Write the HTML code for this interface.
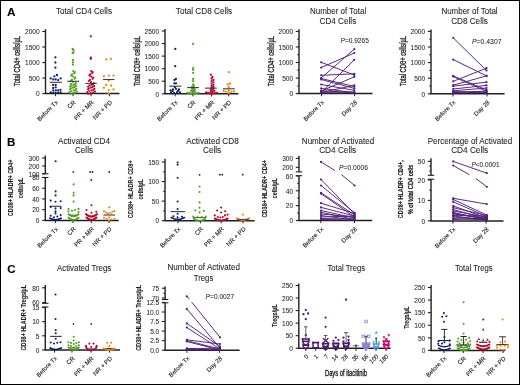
<!DOCTYPE html>
<html><head><meta charset="utf-8"><style>
html,body{margin:0;padding:0;background:#fff;}
svg{will-change:transform;}
text{stroke:#231f20;stroke-width:0.12px;}
.tk{stroke-width:0.05px;}
.tt{stroke-width:0.08px;}
.frame{position:relative;width:520px;height:385px;overflow:hidden;}
.border{position:absolute;left:0;top:0;width:518px;height:383px;border:1px solid #000;}
</style></head><body><div class="frame"><svg width="520" height="385" viewBox="0 0 520 385" style="display:block"><rect x="0" y="0" width="520" height="385" fill="#fff"/><g font-family='"Liberation Sans", sans-serif' stroke-linejoin="round"><text x="7" y="16.0" font-size="11.8" text-anchor="start" font-weight="bold" fill="#000" >A</text><text x="7" y="145.8" font-size="11.5" text-anchor="start" font-weight="bold" fill="#000" >B</text><text x="7.2" y="272.9" font-size="11.5" text-anchor="start" font-weight="bold" fill="#000" >C</text><text x="84" y="14.2" font-size="8.9" text-anchor="middle" font-weight="normal" fill="#231f20" textLength="56" lengthAdjust="spacingAndGlyphs" class="tt">Total CD4 Cells</text><text x="204" y="14.2" font-size="8.9" text-anchor="middle" font-weight="normal" fill="#231f20" textLength="56.4" lengthAdjust="spacingAndGlyphs" class="tt">Total CD8 Cells</text><text x="338.1" y="14.45" font-size="8.9" text-anchor="middle" font-weight="normal" fill="#231f20" textLength="56.2" lengthAdjust="spacingAndGlyphs" class="tt">Number of Total</text><text x="337.9" y="24.45" font-size="8.9" text-anchor="middle" font-weight="normal" fill="#231f20" textLength="36.7" lengthAdjust="spacingAndGlyphs" class="tt">CD4 Cells</text><text x="469.5" y="14.45" font-size="8.9" text-anchor="middle" font-weight="normal" fill="#231f20" textLength="56.2" lengthAdjust="spacingAndGlyphs" class="tt">Number of Total</text><text x="469.5" y="24.45" font-size="8.9" text-anchor="middle" font-weight="normal" fill="#231f20" textLength="36.7" lengthAdjust="spacingAndGlyphs" class="tt">CD8 Cells</text><text x="84" y="144.45" font-size="8.9" text-anchor="middle" font-weight="normal" fill="#231f20" textLength="52" lengthAdjust="spacingAndGlyphs" class="tt">Activated CD4</text><text x="84" y="153.39999999999998" font-size="8.9" text-anchor="middle" font-weight="normal" fill="#231f20" textLength="18" lengthAdjust="spacingAndGlyphs" class="tt">Cells</text><text x="212.5" y="144.45" font-size="8.9" text-anchor="middle" font-weight="normal" fill="#231f20" textLength="52.5" lengthAdjust="spacingAndGlyphs" class="tt">Activated CD8</text><text x="212.1" y="153.39999999999998" font-size="8.9" text-anchor="middle" font-weight="normal" fill="#231f20" textLength="18.2" lengthAdjust="spacingAndGlyphs" class="tt">Cells</text><text x="338" y="143.79999999999998" font-size="8.9" text-anchor="middle" font-weight="normal" fill="#231f20" textLength="72.3" lengthAdjust="spacingAndGlyphs" class="tt">Number of Activated</text><text x="337.7" y="153.39999999999998" font-size="8.9" text-anchor="middle" font-weight="normal" fill="#231f20" textLength="37.1" lengthAdjust="spacingAndGlyphs" class="tt">CD4 Cells</text><text x="470" y="143.79999999999998" font-size="8.9" text-anchor="middle" font-weight="normal" fill="#231f20" textLength="84.6" lengthAdjust="spacingAndGlyphs" class="tt">Percentage of Activated</text><text x="469.7" y="153.39999999999998" font-size="8.9" text-anchor="middle" font-weight="normal" fill="#231f20" textLength="37.1" lengthAdjust="spacingAndGlyphs" class="tt">CD4 Cells</text><text x="84.1" y="270.7" font-size="8.9" text-anchor="middle" font-weight="normal" fill="#231f20" textLength="54.2" lengthAdjust="spacingAndGlyphs" class="tt">Activated Tregs</text><text x="203.75" y="270.2" font-size="8.9" text-anchor="middle" font-weight="normal" fill="#231f20" textLength="72.5" lengthAdjust="spacingAndGlyphs" class="tt">Number of Activated</text><text x="203.5" y="280.7" font-size="8.9" text-anchor="middle" font-weight="normal" fill="#231f20" textLength="19.5" lengthAdjust="spacingAndGlyphs" class="tt">Tregs</text><text x="346.25" y="270.7" font-size="8.9" text-anchor="middle" font-weight="normal" fill="#231f20" textLength="37.5" lengthAdjust="spacingAndGlyphs" class="tt">Total Tregs</text><text x="473.75" y="270.7" font-size="8.9" text-anchor="middle" font-weight="normal" fill="#231f20" textLength="37.5" lengthAdjust="spacingAndGlyphs" class="tt">Total Tregs</text><line x1="45.5" y1="29.2" x2="45.5" y2="93.6" stroke="#231f20" stroke-width="1.4" /><line x1="42.3" y1="93.6" x2="45.5" y2="93.6" stroke="#231f20" stroke-width="1.1" /><text x="39.699999999999996" y="96.35" font-size="6.6" text-anchor="end" font-weight="normal" fill="#231f20" class="tk">0</text><line x1="42.3" y1="78.07499999999999" x2="45.5" y2="78.07499999999999" stroke="#231f20" stroke-width="1.1" /><text x="39.699999999999996" y="80.82499999999999" font-size="6.6" text-anchor="end" font-weight="normal" fill="#231f20" class="tk">500</text><line x1="42.3" y1="62.55" x2="45.5" y2="62.55" stroke="#231f20" stroke-width="1.1" /><text x="39.699999999999996" y="65.3" font-size="6.6" text-anchor="end" font-weight="normal" fill="#231f20" class="tk">1000</text><line x1="42.3" y1="47.025" x2="45.5" y2="47.025" stroke="#231f20" stroke-width="1.1" /><text x="39.699999999999996" y="49.775" font-size="6.6" text-anchor="end" font-weight="normal" fill="#231f20" class="tk">1500</text><line x1="42.3" y1="31.5" x2="45.5" y2="31.5" stroke="#231f20" stroke-width="1.1" /><text x="39.699999999999996" y="34.25" font-size="6.6" text-anchor="end" font-weight="normal" fill="#231f20" class="tk">2000</text><line x1="44.9" y1="93.6" x2="119.5" y2="93.6" stroke="#231f20" stroke-width="1.5" /><line x1="55.4" y1="93.6" x2="55.4" y2="96.19999999999999" stroke="#231f20" stroke-width="1" /><line x1="73" y1="93.6" x2="73" y2="96.19999999999999" stroke="#231f20" stroke-width="1" /><line x1="91" y1="93.6" x2="91" y2="96.19999999999999" stroke="#231f20" stroke-width="1" /><line x1="109.5" y1="93.6" x2="109.5" y2="96.19999999999999" stroke="#231f20" stroke-width="1" /><text transform="translate(19.6,61.15) rotate(-90)" x="0" y="0" font-size="8.4" font-weight="normal" text-anchor="middle" fill="#231f20" textLength="50.2" lengthAdjust="spacingAndGlyphs" style="stroke-width:0.35px">Total CD4+ cells/µL</text><text transform="translate(58.4,102.8) rotate(-45)" x="0" y="0" font-size="6.1" text-anchor="end" fill="#231f20">Before Tx</text><text transform="translate(76.0,102.8) rotate(-45)" x="0" y="0" font-size="6.1" text-anchor="end" fill="#231f20">CR</text><text transform="translate(94.0,102.8) rotate(-45)" x="0" y="0" font-size="6.1" text-anchor="end" fill="#231f20">PR + MR</text><text transform="translate(112.5,102.8) rotate(-45)" x="0" y="0" font-size="6.1" text-anchor="end" fill="#231f20">NR + PD</text><line x1="165" y1="28.9" x2="165" y2="93.8" stroke="#231f20" stroke-width="1.4" /><line x1="161.8" y1="93.8" x2="165" y2="93.8" stroke="#231f20" stroke-width="1.1" /><text x="159.20000000000002" y="96.55" font-size="6.6" text-anchor="end" font-weight="normal" fill="#231f20" class="tk">0</text><line x1="161.8" y1="81.24" x2="165" y2="81.24" stroke="#231f20" stroke-width="1.1" /><text x="159.20000000000002" y="83.99" font-size="6.6" text-anchor="end" font-weight="normal" fill="#231f20" class="tk">500</text><line x1="161.8" y1="68.67999999999999" x2="165" y2="68.67999999999999" stroke="#231f20" stroke-width="1.1" /><text x="159.20000000000002" y="71.42999999999999" font-size="6.6" text-anchor="end" font-weight="normal" fill="#231f20" class="tk">1000</text><line x1="161.8" y1="56.12" x2="165" y2="56.12" stroke="#231f20" stroke-width="1.1" /><text x="159.20000000000002" y="58.87" font-size="6.6" text-anchor="end" font-weight="normal" fill="#231f20" class="tk">1500</text><line x1="161.8" y1="43.559999999999995" x2="165" y2="43.559999999999995" stroke="#231f20" stroke-width="1.1" /><text x="159.20000000000002" y="46.309999999999995" font-size="6.6" text-anchor="end" font-weight="normal" fill="#231f20" class="tk">2000</text><line x1="161.8" y1="31.0" x2="165" y2="31.0" stroke="#231f20" stroke-width="1.1" /><text x="159.20000000000002" y="33.75" font-size="6.6" text-anchor="end" font-weight="normal" fill="#231f20" class="tk">2500</text><line x1="164.4" y1="93.8" x2="238.5" y2="93.8" stroke="#231f20" stroke-width="1.5" /><line x1="175.2" y1="93.8" x2="175.2" y2="96.39999999999999" stroke="#231f20" stroke-width="1" /><line x1="192.9" y1="93.8" x2="192.9" y2="96.39999999999999" stroke="#231f20" stroke-width="1" /><line x1="211.6" y1="93.8" x2="211.6" y2="96.39999999999999" stroke="#231f20" stroke-width="1" /><line x1="228.7" y1="93.8" x2="228.7" y2="96.39999999999999" stroke="#231f20" stroke-width="1" /><text transform="translate(139.5,61) rotate(-90)" x="0" y="0" font-size="8.4" font-weight="normal" text-anchor="middle" fill="#231f20" textLength="49.8" lengthAdjust="spacingAndGlyphs" style="stroke-width:0.35px">Total CD8+ cells/µL</text><text transform="translate(178.2,102.8) rotate(-45)" x="0" y="0" font-size="6.1" text-anchor="end" fill="#231f20">Before Tx</text><text transform="translate(195.9,102.8) rotate(-45)" x="0" y="0" font-size="6.1" text-anchor="end" fill="#231f20">CR</text><text transform="translate(214.6,102.8) rotate(-45)" x="0" y="0" font-size="6.1" text-anchor="end" fill="#231f20">PR + MR</text><text transform="translate(231.7,102.8) rotate(-45)" x="0" y="0" font-size="6.1" text-anchor="end" fill="#231f20">NR + PD</text><line x1="299" y1="29.3" x2="299" y2="93.6" stroke="#231f20" stroke-width="1.4" /><line x1="295.8" y1="93.6" x2="299" y2="93.6" stroke="#231f20" stroke-width="1.1" /><text x="293.2" y="96.35" font-size="6.6" text-anchor="end" font-weight="normal" fill="#231f20" class="tk">0</text><line x1="295.8" y1="78.05" x2="299" y2="78.05" stroke="#231f20" stroke-width="1.1" /><text x="293.2" y="80.8" font-size="6.6" text-anchor="end" font-weight="normal" fill="#231f20" class="tk">500</text><line x1="295.8" y1="62.5" x2="299" y2="62.5" stroke="#231f20" stroke-width="1.1" /><text x="293.2" y="65.25" font-size="6.6" text-anchor="end" font-weight="normal" fill="#231f20" class="tk">1000</text><line x1="295.8" y1="46.949999999999996" x2="299" y2="46.949999999999996" stroke="#231f20" stroke-width="1.1" /><text x="293.2" y="49.699999999999996" font-size="6.6" text-anchor="end" font-weight="normal" fill="#231f20" class="tk">1500</text><line x1="295.8" y1="31.4" x2="299" y2="31.4" stroke="#231f20" stroke-width="1.1" /><text x="293.2" y="34.15" font-size="6.6" text-anchor="end" font-weight="normal" fill="#231f20" class="tk">2000</text><line x1="297.2" y1="85.82499999999999" x2="299" y2="85.82499999999999" stroke="#231f20" stroke-width="1.0" /><line x1="297.2" y1="70.27499999999999" x2="299" y2="70.27499999999999" stroke="#231f20" stroke-width="1.0" /><line x1="297.2" y1="54.724999999999994" x2="299" y2="54.724999999999994" stroke="#231f20" stroke-width="1.0" /><line x1="297.2" y1="39.175000000000004" x2="299" y2="39.175000000000004" stroke="#231f20" stroke-width="1.0" /><line x1="298.4" y1="93.6" x2="372.5" y2="93.6" stroke="#231f20" stroke-width="1.5" /><line x1="321.5" y1="93.6" x2="321.5" y2="96.19999999999999" stroke="#231f20" stroke-width="1" /><line x1="354.6" y1="93.6" x2="354.6" y2="96.19999999999999" stroke="#231f20" stroke-width="1" /><text transform="translate(273.7,61.15) rotate(-90)" x="0" y="0" font-size="8.4" font-weight="normal" text-anchor="middle" fill="#231f20" textLength="50.2" lengthAdjust="spacingAndGlyphs" style="stroke-width:0.35px">Total CD4+ cells/µL</text><text transform="translate(324.5,102.8) rotate(-45)" x="0" y="0" font-size="6.1" text-anchor="end" fill="#231f20">Before Tx</text><text transform="translate(357.6,102.8) rotate(-45)" x="0" y="0" font-size="6.1" text-anchor="end" fill="#231f20">Day 28</text><text x="340.5" y="43" font-size="7.2" text-anchor="start" font-weight="normal" fill="#231f20" textLength="28.3" lengthAdjust="spacingAndGlyphs" class="tk"><tspan font-style="italic">P</tspan>=0.9265</text><line x1="431" y1="29.4" x2="431" y2="93.8" stroke="#231f20" stroke-width="1.4" /><line x1="427.8" y1="93.8" x2="431" y2="93.8" stroke="#231f20" stroke-width="1.1" /><text x="425.2" y="96.55" font-size="6.6" text-anchor="end" font-weight="normal" fill="#231f20" class="tk">0</text><line x1="427.8" y1="78.2" x2="431" y2="78.2" stroke="#231f20" stroke-width="1.1" /><text x="425.2" y="80.95" font-size="6.6" text-anchor="end" font-weight="normal" fill="#231f20" class="tk">500</text><line x1="427.8" y1="62.599999999999994" x2="431" y2="62.599999999999994" stroke="#231f20" stroke-width="1.1" /><text x="425.2" y="65.35" font-size="6.6" text-anchor="end" font-weight="normal" fill="#231f20" class="tk">1000</text><line x1="427.8" y1="47.0" x2="431" y2="47.0" stroke="#231f20" stroke-width="1.1" /><text x="425.2" y="49.75" font-size="6.6" text-anchor="end" font-weight="normal" fill="#231f20" class="tk">1500</text><line x1="427.8" y1="31.4" x2="431" y2="31.4" stroke="#231f20" stroke-width="1.1" /><text x="425.2" y="34.15" font-size="6.6" text-anchor="end" font-weight="normal" fill="#231f20" class="tk">2000</text><line x1="429.2" y1="86.0" x2="431" y2="86.0" stroke="#231f20" stroke-width="1.0" /><line x1="429.2" y1="70.4" x2="431" y2="70.4" stroke="#231f20" stroke-width="1.0" /><line x1="429.2" y1="54.8" x2="431" y2="54.8" stroke="#231f20" stroke-width="1.0" /><line x1="429.2" y1="39.199999999999996" x2="431" y2="39.199999999999996" stroke="#231f20" stroke-width="1.0" /><line x1="430.4" y1="93.8" x2="504.6" y2="93.8" stroke="#231f20" stroke-width="1.5" /><line x1="453" y1="93.8" x2="453" y2="96.39999999999999" stroke="#231f20" stroke-width="1" /><line x1="487" y1="93.8" x2="487" y2="96.39999999999999" stroke="#231f20" stroke-width="1" /><text transform="translate(405.6,61.15) rotate(-90)" x="0" y="0" font-size="8.4" font-weight="normal" text-anchor="middle" fill="#231f20" textLength="50.2" lengthAdjust="spacingAndGlyphs" style="stroke-width:0.35px">Total CD8+ cells/µL</text><text transform="translate(456.0,102.8) rotate(-45)" x="0" y="0" font-size="6.1" text-anchor="end" fill="#231f20">Before Tx</text><text transform="translate(490.0,102.8) rotate(-45)" x="0" y="0" font-size="6.1" text-anchor="end" fill="#231f20">Day 28</text><text x="472" y="43.5" font-size="7.2" text-anchor="start" font-weight="normal" fill="#231f20" textLength="29.5" lengthAdjust="spacingAndGlyphs" class="tk"><tspan font-style="italic">P</tspan>=0.4307</text><line x1="45.3" y1="155.5" x2="45.3" y2="173.8" stroke="#231f20" stroke-width="1.4" /><line x1="45.3" y1="177.5" x2="45.3" y2="220.4" stroke="#231f20" stroke-width="1.4" /><line x1="42.099999999999994" y1="173.8" x2="48.5" y2="173.8" stroke="#231f20" stroke-width="1.1" /><line x1="42.099999999999994" y1="177.5" x2="48.5" y2="177.5" stroke="#231f20" stroke-width="1.1" /><line x1="42.099999999999994" y1="158" x2="45.3" y2="158" stroke="#231f20" stroke-width="1.1" /><text x="39.49999999999999" y="160.75" font-size="6.6" text-anchor="end" font-weight="normal" fill="#231f20" class="tk">300</text><line x1="42.099999999999994" y1="166" x2="45.3" y2="166" stroke="#231f20" stroke-width="1.1" /><text x="39.49999999999999" y="168.75" font-size="6.6" text-anchor="end" font-weight="normal" fill="#231f20" class="tk">200</text><line x1="42.099999999999994" y1="173.8" x2="45.3" y2="173.8" stroke="#231f20" stroke-width="1.1" /><text x="39.49999999999999" y="176.55" font-size="6.6" text-anchor="end" font-weight="normal" fill="#231f20" class="tk">100</text><line x1="42.099999999999994" y1="220.4" x2="45.3" y2="220.4" stroke="#231f20" stroke-width="1.1" /><text x="39.49999999999999" y="223.15" font-size="6.6" text-anchor="end" font-weight="normal" fill="#231f20" class="tk">0</text><line x1="42.099999999999994" y1="209.675" x2="45.3" y2="209.675" stroke="#231f20" stroke-width="1.1" /><text x="39.49999999999999" y="212.425" font-size="6.6" text-anchor="end" font-weight="normal" fill="#231f20" class="tk">20</text><line x1="42.099999999999994" y1="198.95" x2="45.3" y2="198.95" stroke="#231f20" stroke-width="1.1" /><text x="39.49999999999999" y="201.7" font-size="6.6" text-anchor="end" font-weight="normal" fill="#231f20" class="tk">40</text><line x1="42.099999999999994" y1="188.225" x2="45.3" y2="188.225" stroke="#231f20" stroke-width="1.1" /><text x="39.49999999999999" y="190.975" font-size="6.6" text-anchor="end" font-weight="normal" fill="#231f20" class="tk">60</text><line x1="42.099999999999994" y1="177.5" x2="45.3" y2="177.5" stroke="#231f20" stroke-width="1.1" /><text x="39.49999999999999" y="180.25" font-size="6.6" text-anchor="end" font-weight="normal" fill="#231f20" class="tk">80</text><line x1="44.699999999999996" y1="220.4" x2="118.7" y2="220.4" stroke="#231f20" stroke-width="1.5" /><line x1="55.4" y1="220.4" x2="55.4" y2="223.0" stroke="#231f20" stroke-width="1" /><line x1="73" y1="220.4" x2="73" y2="223.0" stroke="#231f20" stroke-width="1" /><line x1="91.3" y1="220.4" x2="91.3" y2="223.0" stroke="#231f20" stroke-width="1" /><line x1="109" y1="220.4" x2="109" y2="223.0" stroke="#231f20" stroke-width="1" /><text transform="translate(13.3,187.9) rotate(-90)" x="0" y="0" font-size="7.9" font-weight="bold" text-anchor="middle" fill="#231f20" textLength="56.5" lengthAdjust="spacingAndGlyphs">CD38+ HLADR+ CD4+</text><text transform="translate(22.5,187.9) rotate(-90)" x="0" y="0" font-size="7.9" font-weight="bold" text-anchor="middle" fill="#231f20" textLength="20.5" lengthAdjust="spacingAndGlyphs">cells/µL</text><text transform="translate(58.4,229.5) rotate(-45)" x="0" y="0" font-size="6.1" text-anchor="end" fill="#231f20">Before Tx</text><text transform="translate(76.0,229.5) rotate(-45)" x="0" y="0" font-size="6.1" text-anchor="end" fill="#231f20">CR</text><text transform="translate(94.3,229.5) rotate(-45)" x="0" y="0" font-size="6.1" text-anchor="end" fill="#231f20">PR + MR</text><text transform="translate(112.0,229.5) rotate(-45)" x="0" y="0" font-size="6.1" text-anchor="end" fill="#231f20">NR + PD</text><line x1="165" y1="158.7" x2="165" y2="220.7" stroke="#231f20" stroke-width="1.4" /><line x1="161.8" y1="220.7" x2="165" y2="220.7" stroke="#231f20" stroke-width="1.1" /><text x="159.20000000000002" y="223.45" font-size="6.6" text-anchor="end" font-weight="normal" fill="#231f20" class="tk">0</text><line x1="161.8" y1="201.13333333333333" x2="165" y2="201.13333333333333" stroke="#231f20" stroke-width="1.1" /><text x="159.20000000000002" y="203.88333333333333" font-size="6.6" text-anchor="end" font-weight="normal" fill="#231f20" class="tk">50</text><line x1="161.8" y1="181.56666666666666" x2="165" y2="181.56666666666666" stroke="#231f20" stroke-width="1.1" /><text x="159.20000000000002" y="184.31666666666666" font-size="6.6" text-anchor="end" font-weight="normal" fill="#231f20" class="tk">100</text><line x1="161.8" y1="162.0" x2="165" y2="162.0" stroke="#231f20" stroke-width="1.1" /><text x="159.20000000000002" y="164.75" font-size="6.6" text-anchor="end" font-weight="normal" fill="#231f20" class="tk">150</text><line x1="163.2" y1="210.91666666666666" x2="165" y2="210.91666666666666" stroke="#231f20" stroke-width="1.0" /><line x1="163.2" y1="191.35" x2="165" y2="191.35" stroke="#231f20" stroke-width="1.0" /><line x1="163.2" y1="171.78333333333333" x2="165" y2="171.78333333333333" stroke="#231f20" stroke-width="1.0" /><line x1="164.4" y1="220.7" x2="254.6" y2="220.7" stroke="#231f20" stroke-width="1.5" /><line x1="178" y1="220.7" x2="178" y2="223.29999999999998" stroke="#231f20" stroke-width="1" /><line x1="200.4" y1="220.7" x2="200.4" y2="223.29999999999998" stroke="#231f20" stroke-width="1" /><line x1="221.2" y1="220.7" x2="221.2" y2="223.29999999999998" stroke="#231f20" stroke-width="1" /><line x1="243" y1="220.7" x2="243" y2="223.29999999999998" stroke="#231f20" stroke-width="1" /><text transform="translate(132.6,189.25) rotate(-90)" x="0" y="0" font-size="7.9" font-weight="bold" text-anchor="middle" fill="#231f20" textLength="57.8" lengthAdjust="spacingAndGlyphs">CD38+ HLADR+ CD8+</text><text transform="translate(142.8,189.35) rotate(-90)" x="0" y="0" font-size="7.9" font-weight="bold" text-anchor="middle" fill="#231f20" textLength="20.2" lengthAdjust="spacingAndGlyphs">cells/µL</text><text transform="translate(181.0,229.5) rotate(-45)" x="0" y="0" font-size="6.1" text-anchor="end" fill="#231f20">Before Tx</text><text transform="translate(203.4,229.5) rotate(-45)" x="0" y="0" font-size="6.1" text-anchor="end" fill="#231f20">CR</text><text transform="translate(224.2,229.5) rotate(-45)" x="0" y="0" font-size="6.1" text-anchor="end" fill="#231f20">PR + MR</text><text transform="translate(246.0,229.5) rotate(-45)" x="0" y="0" font-size="6.1" text-anchor="end" fill="#231f20">NR + PD</text><line x1="299" y1="155.8" x2="299" y2="171.9" stroke="#231f20" stroke-width="1.4" /><line x1="299" y1="175.7" x2="299" y2="220.5" stroke="#231f20" stroke-width="1.4" /><line x1="295.8" y1="171.9" x2="302.2" y2="171.9" stroke="#231f20" stroke-width="1.1" /><line x1="295.8" y1="175.7" x2="302.2" y2="175.7" stroke="#231f20" stroke-width="1.1" /><line x1="295.8" y1="158.4" x2="299" y2="158.4" stroke="#231f20" stroke-width="1.1" /><text x="293.2" y="161.15" font-size="6.6" text-anchor="end" font-weight="normal" fill="#231f20" class="tk">300</text><line x1="295.8" y1="167.3" x2="299" y2="167.3" stroke="#231f20" stroke-width="1.1" /><text x="293.2" y="170.05" font-size="6.6" text-anchor="end" font-weight="normal" fill="#231f20" class="tk">200</text><line x1="295.8" y1="220.5" x2="299" y2="220.5" stroke="#231f20" stroke-width="1.1" /><text x="293.2" y="223.25" font-size="6.6" text-anchor="end" font-weight="normal" fill="#231f20" class="tk">0</text><line x1="295.8" y1="205.63333333333333" x2="299" y2="205.63333333333333" stroke="#231f20" stroke-width="1.1" /><text x="293.2" y="208.38333333333333" font-size="6.6" text-anchor="end" font-weight="normal" fill="#231f20" class="tk">20</text><line x1="295.8" y1="190.76666666666668" x2="299" y2="190.76666666666668" stroke="#231f20" stroke-width="1.1" /><text x="293.2" y="193.51666666666668" font-size="6.6" text-anchor="end" font-weight="normal" fill="#231f20" class="tk">40</text><line x1="295.8" y1="175.9" x2="299" y2="175.9" stroke="#231f20" stroke-width="1.1" /><text x="293.2" y="178.65" font-size="6.6" text-anchor="end" font-weight="normal" fill="#231f20" class="tk">60</text><line x1="297.2" y1="213.06666666666666" x2="299" y2="213.06666666666666" stroke="#231f20" stroke-width="1.0" /><line x1="297.2" y1="198.2" x2="299" y2="198.2" stroke="#231f20" stroke-width="1.0" /><line x1="297.2" y1="183.33333333333334" x2="299" y2="183.33333333333334" stroke="#231f20" stroke-width="1.0" /><line x1="298.4" y1="220.5" x2="372.2" y2="220.5" stroke="#231f20" stroke-width="1.5" /><line x1="320.8" y1="220.5" x2="320.8" y2="223.1" stroke="#231f20" stroke-width="1" /><line x1="354.5" y1="220.5" x2="354.5" y2="223.1" stroke="#231f20" stroke-width="1" /><text transform="translate(267.3,188.7) rotate(-90)" x="0" y="0" font-size="7.9" font-weight="bold" text-anchor="middle" fill="#231f20" textLength="57.5" lengthAdjust="spacingAndGlyphs">CD38+ HLADR+ CD4+</text><text transform="translate(277,188.3) rotate(-90)" x="0" y="0" font-size="7.9" font-weight="bold" text-anchor="middle" fill="#231f20" textLength="20.2" lengthAdjust="spacingAndGlyphs">cells/µL</text><text transform="translate(323.8,229.5) rotate(-45)" x="0" y="0" font-size="6.1" text-anchor="end" fill="#231f20">Before Tx</text><text transform="translate(357.5,229.5) rotate(-45)" x="0" y="0" font-size="6.1" text-anchor="end" fill="#231f20">Day 28</text><text x="339" y="170.1" font-size="7.2" text-anchor="start" font-weight="normal" fill="#231f20" textLength="29" lengthAdjust="spacingAndGlyphs" class="tk"><tspan font-style="italic">P</tspan>=0.0006</text><line x1="431" y1="158.2" x2="431" y2="175.3" stroke="#231f20" stroke-width="1.4" /><line x1="431" y1="179.2" x2="431" y2="221" stroke="#231f20" stroke-width="1.4" /><line x1="427.8" y1="175.3" x2="434.2" y2="175.3" stroke="#231f20" stroke-width="1.1" /><line x1="427.8" y1="179.2" x2="434.2" y2="179.2" stroke="#231f20" stroke-width="1.1" /><line x1="427.8" y1="161.3" x2="431" y2="161.3" stroke="#231f20" stroke-width="1.1" /><text x="425.2" y="164.05" font-size="6.6" text-anchor="end" font-weight="normal" fill="#231f20" class="tk">50</text><line x1="429.2" y1="166" x2="431" y2="166" stroke="#231f20" stroke-width="1.0" /><line x1="429.2" y1="171" x2="431" y2="171" stroke="#231f20" stroke-width="1.0" /><line x1="427.8" y1="220.8" x2="431" y2="220.8" stroke="#231f20" stroke-width="1.1" /><text x="425.2" y="223.55" font-size="6.6" text-anchor="end" font-weight="normal" fill="#231f20" class="tk">0</text><line x1="427.8" y1="200.4" x2="431" y2="200.4" stroke="#231f20" stroke-width="1.1" /><text x="425.2" y="203.15" font-size="6.6" text-anchor="end" font-weight="normal" fill="#231f20" class="tk">10</text><line x1="427.8" y1="180.0" x2="431" y2="180.0" stroke="#231f20" stroke-width="1.1" /><text x="425.2" y="182.75" font-size="6.6" text-anchor="end" font-weight="normal" fill="#231f20" class="tk">20</text><line x1="429.2" y1="210.60000000000002" x2="431" y2="210.60000000000002" stroke="#231f20" stroke-width="1.0" /><line x1="429.2" y1="190.2" x2="431" y2="190.2" stroke="#231f20" stroke-width="1.0" /><line x1="430.4" y1="221" x2="503.5" y2="221" stroke="#231f20" stroke-width="1.5" /><line x1="452.9" y1="221" x2="452.9" y2="223.6" stroke="#231f20" stroke-width="1" /><line x1="486.1" y1="221" x2="486.1" y2="223.6" stroke="#231f20" stroke-width="1" /><text transform="translate(403.3,189.2) rotate(-90)" x="0" y="0" font-size="7.9" font-weight="bold" text-anchor="middle" fill="#231f20" textLength="57.9" lengthAdjust="spacingAndGlyphs">CD38+ HLADR+ CD4+,</text><text transform="translate(412.6,189.65) rotate(-90)" x="0" y="0" font-size="7.9" font-weight="normal" text-anchor="middle" fill="#231f20" textLength="49.2" lengthAdjust="spacingAndGlyphs" style="stroke-width:0.4px">% of total CD4 cells</text><text transform="translate(455.9,229.8) rotate(-45)" x="0" y="0" font-size="6.1" text-anchor="end" fill="#231f20">Before Tx</text><text transform="translate(489.1,229.8) rotate(-45)" x="0" y="0" font-size="6.1" text-anchor="end" fill="#231f20">Day 28</text><text x="471.5" y="167.0" font-size="7.0" text-anchor="start" font-weight="normal" fill="#231f20" textLength="28" lengthAdjust="spacingAndGlyphs" class="tk"><tspan font-style="italic">P</tspan>&lt;0.0001</text><line x1="45.3" y1="285" x2="45.3" y2="303.3" stroke="#231f20" stroke-width="1.4" /><line x1="45.3" y1="307" x2="45.3" y2="350" stroke="#231f20" stroke-width="1.4" /><line x1="42.099999999999994" y1="303.3" x2="48.5" y2="303.3" stroke="#231f20" stroke-width="1.1" /><line x1="42.099999999999994" y1="307" x2="48.5" y2="307" stroke="#231f20" stroke-width="1.1" /><line x1="42.099999999999994" y1="287.8" x2="45.3" y2="287.8" stroke="#231f20" stroke-width="1.1" /><text x="39.49999999999999" y="290.55" font-size="6.6" text-anchor="end" font-weight="normal" fill="#231f20" class="tk">80</text><line x1="42.099999999999994" y1="302.6" x2="45.3" y2="302.6" stroke="#231f20" stroke-width="1.1" /><text x="39.49999999999999" y="305.35" font-size="6.6" text-anchor="end" font-weight="normal" fill="#231f20" class="tk">60</text><line x1="42.099999999999994" y1="350.0" x2="45.3" y2="350.0" stroke="#231f20" stroke-width="1.1" /><text x="39.49999999999999" y="352.75" font-size="6.6" text-anchor="end" font-weight="normal" fill="#231f20" class="tk">0</text><line x1="42.099999999999994" y1="335.8333333333333" x2="45.3" y2="335.8333333333333" stroke="#231f20" stroke-width="1.1" /><text x="39.49999999999999" y="338.5833333333333" font-size="6.6" text-anchor="end" font-weight="normal" fill="#231f20" class="tk">5</text><line x1="42.099999999999994" y1="321.6666666666667" x2="45.3" y2="321.6666666666667" stroke="#231f20" stroke-width="1.1" /><text x="39.49999999999999" y="324.4166666666667" font-size="6.6" text-anchor="end" font-weight="normal" fill="#231f20" class="tk">10</text><line x1="42.099999999999994" y1="307.5" x2="45.3" y2="307.5" stroke="#231f20" stroke-width="1.1" /><text x="39.49999999999999" y="310.25" font-size="6.6" text-anchor="end" font-weight="normal" fill="#231f20" class="tk">15</text><line x1="44.699999999999996" y1="350" x2="120" y2="350" stroke="#231f20" stroke-width="1.5" /><line x1="54.5" y1="350" x2="54.5" y2="352.6" stroke="#231f20" stroke-width="1" /><line x1="72" y1="350" x2="72" y2="352.6" stroke="#231f20" stroke-width="1" /><line x1="91" y1="350" x2="91" y2="352.6" stroke="#231f20" stroke-width="1" /><line x1="109.6" y1="350" x2="109.6" y2="352.6" stroke="#231f20" stroke-width="1" /><text transform="translate(26.3,317.65) rotate(-90)" x="0" y="0" font-size="7.9" font-weight="bold" text-anchor="middle" fill="#231f20" textLength="65.6" lengthAdjust="spacingAndGlyphs">CD38+ HLADR+ Tregs/µL</text><text transform="translate(57.5,358.8) rotate(-45)" x="0" y="0" font-size="6.1" text-anchor="end" fill="#231f20">Before Tx</text><text transform="translate(75.0,358.8) rotate(-45)" x="0" y="0" font-size="6.1" text-anchor="end" fill="#231f20">CR</text><text transform="translate(94.0,358.8) rotate(-45)" x="0" y="0" font-size="6.1" text-anchor="end" fill="#231f20">PR + MR</text><text transform="translate(112.6,358.8) rotate(-45)" x="0" y="0" font-size="6.1" text-anchor="end" fill="#231f20">NR + PD</text><line x1="165.1" y1="286.4" x2="165.1" y2="299.5" stroke="#231f20" stroke-width="1.4" /><line x1="165.1" y1="302.8" x2="165.1" y2="350.2" stroke="#231f20" stroke-width="1.4" /><line x1="161.9" y1="299.5" x2="168.29999999999998" y2="299.5" stroke="#231f20" stroke-width="1.1" /><line x1="161.9" y1="302.8" x2="168.29999999999998" y2="302.8" stroke="#231f20" stroke-width="1.1" /><line x1="161.9" y1="288.2" x2="165.1" y2="288.2" stroke="#231f20" stroke-width="1.1" /><text x="159.3" y="290.95" font-size="6.6" text-anchor="end" font-weight="normal" fill="#231f20" class="tk">75</text><line x1="161.9" y1="298" x2="165.1" y2="298" stroke="#231f20" stroke-width="1.1" /><text x="159.3" y="300.75" font-size="6.6" text-anchor="end" font-weight="normal" fill="#231f20" class="tk">70</text><line x1="163.29999999999998" y1="293.3" x2="165.1" y2="293.3" stroke="#231f20" stroke-width="1.0" /><line x1="161.9" y1="350.2" x2="165.1" y2="350.2" stroke="#231f20" stroke-width="1.1" /><text x="159.3" y="352.95" font-size="6.6" text-anchor="end" font-weight="normal" fill="#231f20" class="tk">0.0</text><line x1="161.9" y1="340.64" x2="165.1" y2="340.64" stroke="#231f20" stroke-width="1.1" /><text x="159.3" y="343.39" font-size="6.6" text-anchor="end" font-weight="normal" fill="#231f20" class="tk">2.5</text><line x1="161.9" y1="331.08" x2="165.1" y2="331.08" stroke="#231f20" stroke-width="1.1" /><text x="159.3" y="333.83" font-size="6.6" text-anchor="end" font-weight="normal" fill="#231f20" class="tk">5.0</text><line x1="161.9" y1="321.52" x2="165.1" y2="321.52" stroke="#231f20" stroke-width="1.1" /><text x="159.3" y="324.27" font-size="6.6" text-anchor="end" font-weight="normal" fill="#231f20" class="tk">7.5</text><line x1="161.9" y1="311.96" x2="165.1" y2="311.96" stroke="#231f20" stroke-width="1.1" /><text x="159.3" y="314.71" font-size="6.6" text-anchor="end" font-weight="normal" fill="#231f20" class="tk">10.0</text><line x1="161.9" y1="302.4" x2="165.1" y2="302.4" stroke="#231f20" stroke-width="1.1" /><text x="159.3" y="305.15" font-size="6.6" text-anchor="end" font-weight="normal" fill="#231f20" class="tk">12.5</text><line x1="164.5" y1="350.2" x2="239.6" y2="350.2" stroke="#231f20" stroke-width="1.5" /><line x1="186.9" y1="350.2" x2="186.9" y2="352.8" stroke="#231f20" stroke-width="1" /><line x1="219.6" y1="350.2" x2="219.6" y2="352.8" stroke="#231f20" stroke-width="1" /><text transform="translate(141.3,317.8) rotate(-90)" x="0" y="0" font-size="7.9" font-weight="bold" text-anchor="middle" fill="#231f20" textLength="65.9" lengthAdjust="spacingAndGlyphs">CD38+ HLADR+ Tregs/µL</text><text transform="translate(189.9,358.8) rotate(-45)" x="0" y="0" font-size="6.1" text-anchor="end" fill="#231f20">Before Tx</text><text transform="translate(222.6,358.8) rotate(-45)" x="0" y="0" font-size="6.1" text-anchor="end" fill="#231f20">Day 28</text><text x="205.6" y="299.0" font-size="7.2" text-anchor="start" font-weight="normal" fill="#231f20" textLength="28.6" lengthAdjust="spacingAndGlyphs" class="tk"><tspan font-style="italic">P</tspan>=0.0027</text><line x1="298.8" y1="283.5" x2="298.8" y2="348.2" stroke="#231f20" stroke-width="1.4" /><line x1="295.6" y1="348.2" x2="298.8" y2="348.2" stroke="#231f20" stroke-width="1.1" /><text x="293.0" y="350.95" font-size="6.6" text-anchor="end" font-weight="normal" fill="#231f20" class="tk">0</text><line x1="295.6" y1="335.65999999999997" x2="298.8" y2="335.65999999999997" stroke="#231f20" stroke-width="1.1" /><text x="293.0" y="338.40999999999997" font-size="6.6" text-anchor="end" font-weight="normal" fill="#231f20" class="tk">50</text><line x1="295.6" y1="323.12" x2="298.8" y2="323.12" stroke="#231f20" stroke-width="1.1" /><text x="293.0" y="325.87" font-size="6.6" text-anchor="end" font-weight="normal" fill="#231f20" class="tk">100</text><line x1="295.6" y1="310.58" x2="298.8" y2="310.58" stroke="#231f20" stroke-width="1.1" /><text x="293.0" y="313.33" font-size="6.6" text-anchor="end" font-weight="normal" fill="#231f20" class="tk">150</text><line x1="295.6" y1="298.04" x2="298.8" y2="298.04" stroke="#231f20" stroke-width="1.1" /><text x="293.0" y="300.79" font-size="6.6" text-anchor="end" font-weight="normal" fill="#231f20" class="tk">200</text><line x1="295.6" y1="285.5" x2="298.8" y2="285.5" stroke="#231f20" stroke-width="1.1" /><text x="293.0" y="288.25" font-size="6.6" text-anchor="end" font-weight="normal" fill="#231f20" class="tk">250</text><line x1="298.2" y1="348.2" x2="390.6" y2="348.2" stroke="#231f20" stroke-width="1.5" /><line x1="305.8" y1="348.2" x2="305.8" y2="350.8" stroke="#231f20" stroke-width="1" /><line x1="315.7" y1="348.2" x2="315.7" y2="350.8" stroke="#231f20" stroke-width="1" /><line x1="325.8" y1="348.2" x2="325.8" y2="350.8" stroke="#231f20" stroke-width="1" /><line x1="335.7" y1="348.2" x2="335.7" y2="350.8" stroke="#231f20" stroke-width="1" /><line x1="345.5" y1="348.2" x2="345.5" y2="350.8" stroke="#231f20" stroke-width="1" /><line x1="356" y1="348.2" x2="356" y2="350.8" stroke="#231f20" stroke-width="1" /><line x1="366" y1="348.2" x2="366" y2="350.8" stroke="#231f20" stroke-width="1" /><line x1="376" y1="348.2" x2="376" y2="350.8" stroke="#231f20" stroke-width="1" /><line x1="386" y1="348.2" x2="386" y2="350.8" stroke="#231f20" stroke-width="1" /><text transform="translate(277,315.65) rotate(-90)" x="0" y="0" font-size="7.8" font-weight="bold" text-anchor="middle" fill="#231f20" textLength="22.8" lengthAdjust="spacingAndGlyphs">Tregs/µL</text><text transform="translate(308.8,356.8) rotate(-45)" x="0" y="0" font-size="6.1" text-anchor="end" fill="#231f20">0</text><text transform="translate(318.7,356.8) rotate(-45)" x="0" y="0" font-size="6.1" text-anchor="end" fill="#231f20">1</text><text transform="translate(328.8,356.8) rotate(-45)" x="0" y="0" font-size="6.1" text-anchor="end" fill="#231f20">7</text><text transform="translate(338.7,356.8) rotate(-45)" x="0" y="0" font-size="6.1" text-anchor="end" fill="#231f20">14</text><text transform="translate(348.5,356.8) rotate(-45)" x="0" y="0" font-size="6.1" text-anchor="end" fill="#231f20">28</text><text transform="translate(359.0,356.8) rotate(-45)" x="0" y="0" font-size="6.1" text-anchor="end" fill="#231f20">35</text><text transform="translate(369.0,356.8) rotate(-45)" x="0" y="0" font-size="6.1" text-anchor="end" fill="#231f20">56</text><text transform="translate(379.0,356.8) rotate(-45)" x="0" y="0" font-size="6.1" text-anchor="end" fill="#231f20">100</text><text transform="translate(389.0,356.8) rotate(-45)" x="0" y="0" font-size="6.1" text-anchor="end" fill="#231f20">180</text><text x="346" y="376.2" font-size="8.2" text-anchor="middle" font-weight="normal" fill="#231f20" textLength="42" lengthAdjust="spacingAndGlyphs" style="stroke-width:0.35px">Days of itacitinib</text><line x1="431.1" y1="284.9" x2="431.1" y2="350.4" stroke="#231f20" stroke-width="1.4" /><line x1="427.90000000000003" y1="350.4" x2="431.1" y2="350.4" stroke="#231f20" stroke-width="1.1" /><text x="425.3" y="353.15" font-size="6.6" text-anchor="end" font-weight="normal" fill="#231f20" class="tk">0</text><line x1="427.90000000000003" y1="337.82" x2="431.1" y2="337.82" stroke="#231f20" stroke-width="1.1" /><text x="425.3" y="340.57" font-size="6.6" text-anchor="end" font-weight="normal" fill="#231f20" class="tk">50</text><line x1="427.90000000000003" y1="325.24" x2="431.1" y2="325.24" stroke="#231f20" stroke-width="1.1" /><text x="425.3" y="327.99" font-size="6.6" text-anchor="end" font-weight="normal" fill="#231f20" class="tk">100</text><line x1="427.90000000000003" y1="312.65999999999997" x2="431.1" y2="312.65999999999997" stroke="#231f20" stroke-width="1.1" /><text x="425.3" y="315.40999999999997" font-size="6.6" text-anchor="end" font-weight="normal" fill="#231f20" class="tk">150</text><line x1="427.90000000000003" y1="300.08" x2="431.1" y2="300.08" stroke="#231f20" stroke-width="1.1" /><text x="425.3" y="302.83" font-size="6.6" text-anchor="end" font-weight="normal" fill="#231f20" class="tk">200</text><line x1="427.90000000000003" y1="287.5" x2="431.1" y2="287.5" stroke="#231f20" stroke-width="1.1" /><text x="425.3" y="290.25" font-size="6.6" text-anchor="end" font-weight="normal" fill="#231f20" class="tk">250</text><line x1="430.5" y1="350.4" x2="505" y2="350.4" stroke="#231f20" stroke-width="1.5" /><line x1="444" y1="350.4" x2="444" y2="353.0" stroke="#231f20" stroke-width="1" /><line x1="463.3" y1="350.4" x2="463.3" y2="353.0" stroke="#231f20" stroke-width="1" /><line x1="483" y1="350.4" x2="483" y2="353.0" stroke="#231f20" stroke-width="1" /><line x1="503" y1="350.4" x2="503" y2="353.0" stroke="#231f20" stroke-width="1" /><text transform="translate(409.3,317.65) rotate(-90)" x="0" y="0" font-size="7.8" font-weight="bold" text-anchor="middle" fill="#231f20" textLength="22.2" lengthAdjust="spacingAndGlyphs">Tregs/µL</text><text transform="translate(447.0,358.8) rotate(-45)" x="0" y="0" font-size="6.1" text-anchor="end" fill="#231f20">Before Tx</text><text transform="translate(466.3,358.8) rotate(-45)" x="0" y="0" font-size="6.1" text-anchor="end" fill="#231f20">CR</text><text transform="translate(486.0,358.8) rotate(-45)" x="0" y="0" font-size="6.1" text-anchor="end" fill="#231f20">PR + MR</text><text transform="translate(506.0,358.8) rotate(-45)" x="0" y="0" font-size="6.1" text-anchor="end" fill="#231f20">NR + PD</text><circle cx="55.40" cy="57.30" r="1.15" fill="#0f2463"/><circle cx="55.40" cy="62.50" r="1.15" fill="#0f2463"/><circle cx="55.40" cy="67.70" r="1.15" fill="#0f2463"/><circle cx="57.00" cy="75.00" r="1.15" fill="#0f2463"/><circle cx="54.40" cy="76.30" r="1.15" fill="#0f2463"/><circle cx="50.70" cy="78.40" r="1.15" fill="#0f2463"/><circle cx="53.30" cy="79.40" r="1.15" fill="#0f2463"/><circle cx="55.70" cy="79.40" r="1.15" fill="#0f2463"/><circle cx="58.20" cy="80.10" r="1.15" fill="#0f2463"/><circle cx="60.60" cy="78.40" r="1.15" fill="#0f2463"/><circle cx="53.10" cy="84.90" r="1.15" fill="#0f2463"/><circle cx="55.70" cy="84.90" r="1.15" fill="#0f2463"/><circle cx="53.10" cy="88.00" r="1.15" fill="#0f2463"/><circle cx="55.70" cy="87.30" r="1.15" fill="#0f2463"/><circle cx="53.30" cy="90.30" r="1.15" fill="#0f2463"/><circle cx="55.90" cy="90.30" r="1.15" fill="#0f2463"/><circle cx="58.20" cy="90.30" r="1.15" fill="#0f2463"/><circle cx="60.60" cy="89.80" r="1.15" fill="#0f2463"/><circle cx="50.70" cy="92.40" r="1.15" fill="#0f2463"/><circle cx="60.60" cy="92.40" r="1.15" fill="#0f2463"/><circle cx="55.70" cy="92.80" r="1.15" fill="#0f2463"/><circle cx="53.20" cy="92.60" r="1.15" fill="#0f2463"/><circle cx="58.30" cy="92.60" r="1.15" fill="#0f2463"/><line x1="49.7" y1="82.3" x2="61.8" y2="82.3" stroke="#3a3a3a" stroke-width="1.1" /><circle cx="72.60" cy="49.00" r="1.15" fill="#4f9f22"/><circle cx="73.50" cy="50.20" r="1.15" fill="#4f9f22"/><circle cx="72.60" cy="53.10" r="1.15" fill="#4f9f22"/><circle cx="73.50" cy="52.50" r="1.15" fill="#4f9f22"/><circle cx="72.90" cy="60.00" r="1.15" fill="#4f9f22"/><circle cx="72.90" cy="62.30" r="1.15" fill="#4f9f22"/><circle cx="72.90" cy="64.60" r="1.15" fill="#4f9f22"/><circle cx="73.20" cy="71.00" r="1.1" fill="#4f9f22"/><circle cx="74.86" cy="72.11" r="1.1" fill="#4f9f22"/><circle cx="74.29" cy="73.22" r="1.1" fill="#4f9f22"/><circle cx="72.12" cy="74.33" r="1.1" fill="#4f9f22"/><circle cx="71.30" cy="75.44" r="1.1" fill="#4f9f22"/><circle cx="73.13" cy="76.55" r="1.1" fill="#4f9f22"/><circle cx="75.25" cy="77.66" r="1.1" fill="#4f9f22"/><circle cx="74.63" cy="78.77" r="1.1" fill="#4f9f22"/><circle cx="71.89" cy="79.88" r="1.1" fill="#4f9f22"/><circle cx="70.77" cy="80.99" r="1.1" fill="#4f9f22"/><circle cx="73.03" cy="82.10" r="1.1" fill="#4f9f22"/><circle cx="75.75" cy="83.21" r="1.1" fill="#4f9f22"/><circle cx="70.80" cy="83.81" r="1.1" fill="#4f9f22"/><circle cx="75.08" cy="84.32" r="1.1" fill="#4f9f22"/><circle cx="73.75" cy="84.92" r="1.1" fill="#4f9f22"/><circle cx="71.65" cy="85.43" r="1.1" fill="#4f9f22"/><circle cx="76.19" cy="86.03" r="1.1" fill="#4f9f22"/><circle cx="70.13" cy="86.54" r="1.1" fill="#4f9f22"/><circle cx="74.57" cy="87.14" r="1.1" fill="#4f9f22"/><circle cx="72.87" cy="87.65" r="1.1" fill="#4f9f22"/><circle cx="70.84" cy="88.25" r="1.1" fill="#4f9f22"/><circle cx="76.32" cy="88.76" r="1.1" fill="#4f9f22"/><circle cx="70.17" cy="89.36" r="1.1" fill="#4f9f22"/><circle cx="75.60" cy="89.87" r="1.1" fill="#4f9f22"/><circle cx="73.76" cy="90.47" r="1.1" fill="#4f9f22"/><circle cx="71.39" cy="90.98" r="1.1" fill="#4f9f22"/><circle cx="76.86" cy="91.58" r="1.1" fill="#4f9f22"/><circle cx="69.42" cy="92.09" r="1.1" fill="#4f9f22"/><circle cx="74.99" cy="92.69" r="1.1" fill="#4f9f22"/><circle cx="72.67" cy="93.20" r="1.1" fill="#4f9f22"/><circle cx="70.42" cy="93.80" r="1.1" fill="#4f9f22"/><line x1="67.3" y1="81.3" x2="79.3" y2="81.3" stroke="#3a3a3a" stroke-width="1.1" /><circle cx="90.80" cy="36.30" r="1.15" fill="#b00a2e"/><circle cx="90.80" cy="57.70" r="1.15" fill="#b00a2e"/><circle cx="90.80" cy="58.80" r="1.15" fill="#b00a2e"/><circle cx="91.20" cy="71.00" r="1.1" fill="#b00a2e"/><circle cx="92.68" cy="72.11" r="1.1" fill="#b00a2e"/><circle cx="92.18" cy="73.22" r="1.1" fill="#b00a2e"/><circle cx="90.21" cy="74.33" r="1.1" fill="#b00a2e"/><circle cx="89.44" cy="75.44" r="1.1" fill="#b00a2e"/><circle cx="91.14" cy="76.55" r="1.1" fill="#b00a2e"/><circle cx="93.14" cy="77.66" r="1.1" fill="#b00a2e"/><circle cx="92.57" cy="78.77" r="1.1" fill="#b00a2e"/><circle cx="89.94" cy="79.88" r="1.1" fill="#b00a2e"/><circle cx="88.82" cy="80.99" r="1.1" fill="#b00a2e"/><circle cx="91.03" cy="82.10" r="1.1" fill="#b00a2e"/><circle cx="93.74" cy="83.21" r="1.1" fill="#b00a2e"/><circle cx="93.08" cy="84.32" r="1.1" fill="#b00a2e"/><circle cx="91.75" cy="84.92" r="1.1" fill="#b00a2e"/><circle cx="89.63" cy="85.43" r="1.1" fill="#b00a2e"/><circle cx="94.22" cy="86.03" r="1.1" fill="#b00a2e"/><circle cx="88.08" cy="86.54" r="1.1" fill="#b00a2e"/><circle cx="92.59" cy="87.14" r="1.1" fill="#b00a2e"/><circle cx="90.87" cy="87.65" r="1.1" fill="#b00a2e"/><circle cx="88.79" cy="88.25" r="1.1" fill="#b00a2e"/><circle cx="94.41" cy="88.76" r="1.1" fill="#b00a2e"/><circle cx="88.08" cy="89.36" r="1.1" fill="#b00a2e"/><circle cx="93.69" cy="89.87" r="1.1" fill="#b00a2e"/><circle cx="91.78" cy="90.47" r="1.1" fill="#b00a2e"/><circle cx="89.32" cy="90.98" r="1.1" fill="#b00a2e"/><circle cx="95.00" cy="91.58" r="1.1" fill="#b00a2e"/><circle cx="87.25" cy="92.09" r="1.1" fill="#b00a2e"/><circle cx="93.07" cy="92.69" r="1.1" fill="#b00a2e"/><circle cx="90.64" cy="93.20" r="1.1" fill="#b00a2e"/><circle cx="88.28" cy="93.80" r="1.1" fill="#b00a2e"/><line x1="85.2" y1="83.4" x2="96.8" y2="83.4" stroke="#3a3a3a" stroke-width="1.1" /><circle cx="106.20" cy="59.40" r="1.15" fill="#ec8410"/><circle cx="111.00" cy="58.80" r="1.15" fill="#ec8410"/><circle cx="103.90" cy="76.30" r="1.15" fill="#ec8410"/><circle cx="108.80" cy="75.60" r="1.15" fill="#ec8410"/><circle cx="113.50" cy="75.60" r="1.15" fill="#ec8410"/><circle cx="108.80" cy="80.50" r="1.15" fill="#ec8410"/><circle cx="106.20" cy="84.90" r="1.15" fill="#ec8410"/><circle cx="111.20" cy="85.50" r="1.15" fill="#ec8410"/><circle cx="103.90" cy="87.80" r="1.15" fill="#ec8410"/><circle cx="113.50" cy="89.40" r="1.15" fill="#ec8410"/><circle cx="108.80" cy="90.10" r="1.15" fill="#ec8410"/><circle cx="108.80" cy="93.60" r="1.15" fill="#ec8410"/><line x1="103" y1="79.5" x2="114.5" y2="79.5" stroke="#3a3a3a" stroke-width="1.1" /><circle cx="175.30" cy="48.90" r="1.15" fill="#0f2463"/><circle cx="175.20" cy="66.20" r="1.15" fill="#0f2463"/><circle cx="175.90" cy="79.00" r="1.15" fill="#0f2463"/><circle cx="174.40" cy="80.00" r="1.15" fill="#0f2463"/><circle cx="174.40" cy="83.30" r="1.15" fill="#0f2463"/><circle cx="176.00" cy="83.30" r="1.15" fill="#0f2463"/><circle cx="175.00" cy="87.20" r="1.15" fill="#0f2463"/><circle cx="170.50" cy="90.30" r="1.15" fill="#0f2463"/><circle cx="173.00" cy="89.50" r="1.15" fill="#0f2463"/><circle cx="176.00" cy="88.80" r="1.15" fill="#0f2463"/><circle cx="179.00" cy="89.50" r="1.15" fill="#0f2463"/><circle cx="171.00" cy="92.50" r="1.15" fill="#0f2463"/><circle cx="174.00" cy="93.00" r="1.15" fill="#0f2463"/><circle cx="177.00" cy="92.50" r="1.15" fill="#0f2463"/><circle cx="180.00" cy="92.50" r="1.15" fill="#0f2463"/><circle cx="172.50" cy="91.00" r="1.15" fill="#0f2463"/><circle cx="178.00" cy="91.00" r="1.15" fill="#0f2463"/><line x1="169.3" y1="86.2" x2="181.4" y2="86.2" stroke="#3a3a3a" stroke-width="1.1" /><circle cx="193.10" cy="43.90" r="1.15" fill="#4f9f22"/><circle cx="193.20" cy="68.10" r="1.15" fill="#4f9f22"/><circle cx="193.20" cy="69.80" r="1.15" fill="#4f9f22"/><circle cx="193.20" cy="72.80" r="1.15" fill="#4f9f22"/><circle cx="193.20" cy="78.90" r="1.15" fill="#4f9f22"/><circle cx="193.20" cy="81.20" r="1.15" fill="#4f9f22"/><circle cx="193.20" cy="84.50" r="1.15" fill="#4f9f22"/><circle cx="192.90" cy="93.40" r="1.15" fill="#4f9f22"/><circle cx="194.72" cy="93.40" r="1.15" fill="#4f9f22"/><circle cx="191.09" cy="93.40" r="1.15" fill="#4f9f22"/><circle cx="196.53" cy="93.30" r="1.15" fill="#4f9f22"/><circle cx="189.27" cy="93.20" r="1.15" fill="#4f9f22"/><circle cx="198.34" cy="93.00" r="1.15" fill="#4f9f22"/><circle cx="187.46" cy="92.80" r="1.15" fill="#4f9f22"/><circle cx="192.90" cy="92.40" r="1.15" fill="#4f9f22"/><circle cx="192.90" cy="92.00" r="1.15" fill="#4f9f22"/><circle cx="194.72" cy="91.40" r="1.15" fill="#4f9f22"/><circle cx="191.09" cy="90.80" r="1.15" fill="#4f9f22"/><circle cx="192.90" cy="90.20" r="1.15" fill="#4f9f22"/><circle cx="194.72" cy="89.50" r="1.15" fill="#4f9f22"/><circle cx="191.99" cy="88.80" r="1.15" fill="#4f9f22"/><circle cx="193.81" cy="88.00" r="1.15" fill="#4f9f22"/><circle cx="191.99" cy="87.00" r="1.15" fill="#4f9f22"/><circle cx="193.81" cy="86.00" r="1.15" fill="#4f9f22"/><line x1="187.2" y1="87.6" x2="198.9" y2="87.6" stroke="#3a3a3a" stroke-width="1.1" /><circle cx="210.90" cy="74.70" r="1.15" fill="#b00a2e"/><circle cx="211.60" cy="93.40" r="1.15" fill="#b00a2e"/><circle cx="213.41" cy="93.40" r="1.15" fill="#b00a2e"/><circle cx="209.78" cy="93.30" r="1.15" fill="#b00a2e"/><circle cx="215.23" cy="93.20" r="1.15" fill="#b00a2e"/><circle cx="207.97" cy="93.00" r="1.15" fill="#b00a2e"/><circle cx="217.04" cy="92.80" r="1.15" fill="#b00a2e"/><circle cx="206.16" cy="92.40" r="1.15" fill="#b00a2e"/><circle cx="212.51" cy="92.00" r="1.15" fill="#b00a2e"/><circle cx="210.69" cy="91.40" r="1.15" fill="#b00a2e"/><circle cx="214.32" cy="90.80" r="1.15" fill="#b00a2e"/><circle cx="212.51" cy="90.20" r="1.15" fill="#b00a2e"/><circle cx="210.69" cy="89.50" r="1.15" fill="#b00a2e"/><circle cx="213.41" cy="88.80" r="1.15" fill="#b00a2e"/><circle cx="211.60" cy="88.00" r="1.15" fill="#b00a2e"/><circle cx="213.41" cy="87.00" r="1.15" fill="#b00a2e"/><circle cx="211.60" cy="86.00" r="1.15" fill="#b00a2e"/><circle cx="213.41" cy="84.80" r="1.15" fill="#b00a2e"/><circle cx="211.60" cy="83.60" r="1.15" fill="#b00a2e"/><circle cx="213.41" cy="82.40" r="1.15" fill="#b00a2e"/><circle cx="211.60" cy="81.20" r="1.15" fill="#b00a2e"/><circle cx="213.41" cy="80.00" r="1.15" fill="#b00a2e"/><circle cx="211.60" cy="78.50" r="1.15" fill="#b00a2e"/><circle cx="212.51" cy="77.00" r="1.15" fill="#b00a2e"/><line x1="205" y1="88.1" x2="216.8" y2="88.1" stroke="#3a3a3a" stroke-width="1.1" /><circle cx="228.80" cy="72.20" r="1.15" fill="#ec8410"/><circle cx="227.70" cy="84.50" r="1.15" fill="#ec8410"/><circle cx="230.00" cy="83.70" r="1.15" fill="#ec8410"/><circle cx="228.80" cy="87.20" r="1.15" fill="#ec8410"/><circle cx="223.80" cy="91.00" r="1.15" fill="#ec8410"/><circle cx="226.20" cy="91.80" r="1.15" fill="#ec8410"/><circle cx="228.80" cy="90.50" r="1.15" fill="#ec8410"/><circle cx="231.50" cy="92.00" r="1.15" fill="#ec8410"/><circle cx="234.00" cy="91.50" r="1.15" fill="#ec8410"/><circle cx="228.80" cy="93.00" r="1.15" fill="#ec8410"/><line x1="223" y1="88.8" x2="234.7" y2="88.8" stroke="#3a3a3a" stroke-width="1.1" /><line x1="321.2" y1="62.3" x2="354.3" y2="75" stroke="#4f2278" stroke-width="0.95" /><line x1="321.2" y1="67.6" x2="354.3" y2="53" stroke="#4f2278" stroke-width="0.95" /><line x1="321.2" y1="78" x2="354.3" y2="49.1" stroke="#4f2278" stroke-width="0.95" /><line x1="321.2" y1="92.5" x2="354.3" y2="59.8" stroke="#4f2278" stroke-width="0.95" /><line x1="321.2" y1="75.3" x2="354.3" y2="73.8" stroke="#4f2278" stroke-width="0.95" /><line x1="321.2" y1="78.5" x2="354.3" y2="86.5" stroke="#4f2278" stroke-width="0.95" /><line x1="321.2" y1="79.5" x2="354.3" y2="88.4" stroke="#4f2278" stroke-width="0.95" /><line x1="321.2" y1="84.5" x2="354.3" y2="90.3" stroke="#4f2278" stroke-width="0.95" /><line x1="321.2" y1="88.4" x2="354.3" y2="92.6" stroke="#4f2278" stroke-width="0.95" /><line x1="321.2" y1="91" x2="354.3" y2="76.8" stroke="#4f2278" stroke-width="0.95" /><line x1="321.2" y1="92.6" x2="354.3" y2="85.3" stroke="#4f2278" stroke-width="0.95" /><line x1="321.2" y1="92.8" x2="354.3" y2="92.8" stroke="#4f2278" stroke-width="0.95" /><line x1="321.2" y1="92" x2="354.3" y2="92" stroke="#4f2278" stroke-width="0.95" /><line x1="321.2" y1="90.5" x2="354.3" y2="93" stroke="#4f2278" stroke-width="0.95" /><circle cx="321.20" cy="62.30" r="1.1" fill="#4f2278"/><circle cx="354.30" cy="75.00" r="1.1" fill="#4f2278"/><circle cx="321.20" cy="67.60" r="1.1" fill="#4f2278"/><circle cx="354.30" cy="53.00" r="1.1" fill="#4f2278"/><circle cx="321.20" cy="78.00" r="1.1" fill="#4f2278"/><circle cx="354.30" cy="49.10" r="1.1" fill="#4f2278"/><circle cx="321.20" cy="92.50" r="1.1" fill="#4f2278"/><circle cx="354.30" cy="59.80" r="1.1" fill="#4f2278"/><circle cx="321.20" cy="75.30" r="1.1" fill="#4f2278"/><circle cx="354.30" cy="73.80" r="1.1" fill="#4f2278"/><circle cx="321.20" cy="78.50" r="1.1" fill="#4f2278"/><circle cx="354.30" cy="86.50" r="1.1" fill="#4f2278"/><circle cx="321.20" cy="79.50" r="1.1" fill="#4f2278"/><circle cx="354.30" cy="88.40" r="1.1" fill="#4f2278"/><circle cx="321.20" cy="84.50" r="1.1" fill="#4f2278"/><circle cx="354.30" cy="90.30" r="1.1" fill="#4f2278"/><circle cx="321.20" cy="88.40" r="1.1" fill="#4f2278"/><circle cx="354.30" cy="92.60" r="1.1" fill="#4f2278"/><circle cx="321.20" cy="91.00" r="1.1" fill="#4f2278"/><circle cx="354.30" cy="76.80" r="1.1" fill="#4f2278"/><circle cx="321.20" cy="92.60" r="1.1" fill="#4f2278"/><circle cx="354.30" cy="85.30" r="1.1" fill="#4f2278"/><circle cx="321.20" cy="92.80" r="1.1" fill="#4f2278"/><circle cx="354.30" cy="92.80" r="1.1" fill="#4f2278"/><circle cx="321.20" cy="92.00" r="1.1" fill="#4f2278"/><circle cx="354.30" cy="92.00" r="1.1" fill="#4f2278"/><circle cx="321.20" cy="90.50" r="1.1" fill="#4f2278"/><circle cx="354.30" cy="93.00" r="1.1" fill="#4f2278"/><line x1="453.2" y1="37.8" x2="486.5" y2="70.5" stroke="#4f2278" stroke-width="0.95" /><line x1="453.2" y1="59.6" x2="486.5" y2="75.9" stroke="#4f2278" stroke-width="0.95" /><line x1="453.2" y1="75.9" x2="486.5" y2="89.9" stroke="#4f2278" stroke-width="0.95" /><line x1="453.2" y1="76.6" x2="486.5" y2="91.3" stroke="#4f2278" stroke-width="0.95" /><line x1="453.2" y1="81.3" x2="486.5" y2="68.2" stroke="#4f2278" stroke-width="0.95" /><line x1="453.2" y1="85.2" x2="486.5" y2="75.9" stroke="#4f2278" stroke-width="0.95" /><line x1="453.2" y1="86.2" x2="486.5" y2="82.1" stroke="#4f2278" stroke-width="0.95" /><line x1="453.2" y1="89" x2="486.5" y2="85.4" stroke="#4f2278" stroke-width="0.95" /><line x1="453.2" y1="90.8" x2="486.5" y2="88" stroke="#4f2278" stroke-width="0.95" /><line x1="453.2" y1="92.2" x2="486.5" y2="92" stroke="#4f2278" stroke-width="0.95" /><line x1="453.2" y1="92.5" x2="486.5" y2="91" stroke="#4f2278" stroke-width="0.95" /><line x1="453.2" y1="91.5" x2="486.5" y2="93" stroke="#4f2278" stroke-width="0.95" /><line x1="453.2" y1="93" x2="486.5" y2="92.5" stroke="#4f2278" stroke-width="0.95" /><circle cx="453.20" cy="37.80" r="1.1" fill="#4f2278"/><circle cx="486.50" cy="70.50" r="1.1" fill="#4f2278"/><circle cx="453.20" cy="59.60" r="1.1" fill="#4f2278"/><circle cx="486.50" cy="75.90" r="1.1" fill="#4f2278"/><circle cx="453.20" cy="75.90" r="1.1" fill="#4f2278"/><circle cx="486.50" cy="89.90" r="1.1" fill="#4f2278"/><circle cx="453.20" cy="76.60" r="1.1" fill="#4f2278"/><circle cx="486.50" cy="91.30" r="1.1" fill="#4f2278"/><circle cx="453.20" cy="81.30" r="1.1" fill="#4f2278"/><circle cx="486.50" cy="68.20" r="1.1" fill="#4f2278"/><circle cx="453.20" cy="85.20" r="1.1" fill="#4f2278"/><circle cx="486.50" cy="75.90" r="1.1" fill="#4f2278"/><circle cx="453.20" cy="86.20" r="1.1" fill="#4f2278"/><circle cx="486.50" cy="82.10" r="1.1" fill="#4f2278"/><circle cx="453.20" cy="89.00" r="1.1" fill="#4f2278"/><circle cx="486.50" cy="85.40" r="1.1" fill="#4f2278"/><circle cx="453.20" cy="90.80" r="1.1" fill="#4f2278"/><circle cx="486.50" cy="88.00" r="1.1" fill="#4f2278"/><circle cx="453.20" cy="92.20" r="1.1" fill="#4f2278"/><circle cx="486.50" cy="92.00" r="1.1" fill="#4f2278"/><circle cx="453.20" cy="92.50" r="1.1" fill="#4f2278"/><circle cx="486.50" cy="91.00" r="1.1" fill="#4f2278"/><circle cx="453.20" cy="91.50" r="1.1" fill="#4f2278"/><circle cx="486.50" cy="93.00" r="1.1" fill="#4f2278"/><circle cx="453.20" cy="93.00" r="1.1" fill="#4f2278"/><circle cx="486.50" cy="92.50" r="1.1" fill="#4f2278"/><line x1="49.7" y1="206.3" x2="61.6" y2="206.3" stroke="#3a3a3a" stroke-width="1.1" /><circle cx="55.60" cy="161.20" r="1.05" fill="#0f2463"/><circle cx="55.60" cy="191.40" r="1.05" fill="#0f2463"/><circle cx="55.60" cy="195.40" r="1.05" fill="#0f2463"/><circle cx="50.70" cy="200.60" r="1.05" fill="#0f2463"/><circle cx="55.50" cy="201.70" r="1.05" fill="#0f2463"/><circle cx="60.70" cy="201.30" r="1.05" fill="#0f2463"/><circle cx="50.70" cy="206.90" r="1.05" fill="#0f2463"/><circle cx="55.50" cy="208.40" r="1.05" fill="#0f2463"/><circle cx="60.70" cy="208.10" r="1.05" fill="#0f2463"/><circle cx="55.50" cy="211.40" r="1.05" fill="#0f2463"/><circle cx="55.50" cy="213.40" r="1.05" fill="#0f2463"/><circle cx="50.70" cy="215.80" r="1.05" fill="#0f2463"/><circle cx="54.00" cy="217.20" r="1.05" fill="#0f2463"/><circle cx="57.30" cy="216.50" r="1.05" fill="#0f2463"/><circle cx="60.70" cy="215.10" r="1.05" fill="#0f2463"/><path d="M49.90,218.30 Q55.50,221.50 61.10,218.30" fill="none" stroke="#0f2463" stroke-width="1.8" stroke-linecap="round"/><circle cx="73.30" cy="172.10" r="0.9" fill="#222"/><line x1="69" y1="215.2" x2="78" y2="215.2" stroke="#555" stroke-width="1.0" /><circle cx="73.60" cy="184.40" r="1.05" fill="#4f9f22"/><circle cx="73.60" cy="192.80" r="1.05" fill="#4f9f22"/><circle cx="73.60" cy="195.40" r="1.05" fill="#4f9f22"/><circle cx="73.60" cy="201.60" r="1.05" fill="#4f9f22"/><circle cx="68.50" cy="209.00" r="1.05" fill="#4f9f22"/><circle cx="72.00" cy="210.70" r="1.05" fill="#4f9f22"/><circle cx="75.10" cy="210.00" r="1.05" fill="#4f9f22"/><circle cx="78.50" cy="208.90" r="1.05" fill="#4f9f22"/><circle cx="68.50" cy="211.40" r="1.05" fill="#4f9f22"/><circle cx="78.50" cy="212.10" r="1.05" fill="#4f9f22"/><path d="M68.50,214.20 Q73.50,218.20 78.50,214.20" fill="none" stroke="#4f9f22" stroke-width="1.9" stroke-linecap="round"/><path d="M68.50,217.70 Q73.50,222.10 78.50,217.70" fill="none" stroke="#4f9f22" stroke-width="1.9" stroke-linecap="round"/><circle cx="90.10" cy="172.00" r="0.9" fill="#222"/><circle cx="92.50" cy="172.00" r="0.9" fill="#222"/><circle cx="91.30" cy="180.10" r="1.05" fill="#b00a2e"/><circle cx="91.50" cy="205.20" r="1.05" fill="#b00a2e"/><circle cx="86.50" cy="210.00" r="1.05" fill="#b00a2e"/><circle cx="91.50" cy="212.80" r="1.05" fill="#b00a2e"/><circle cx="96.30" cy="211.80" r="1.05" fill="#b00a2e"/><path d="M86.00,214.20 Q91.50,219.00 97.00,214.20" fill="none" stroke="#b00a2e" stroke-width="2.1" stroke-linecap="round"/><path d="M86.50,217.60 Q91.50,222.40 96.50,217.60" fill="none" stroke="#b00a2e" stroke-width="2.1" stroke-linecap="round"/><circle cx="109.20" cy="172.00" r="0.9" fill="#222"/><line x1="103.5" y1="215" x2="115" y2="215" stroke="#3a3a3a" stroke-width="1.1" /><circle cx="109.25" cy="207.20" r="1.05" fill="#ec8410"/><circle cx="104.00" cy="211.30" r="1.05" fill="#ec8410"/><circle cx="106.00" cy="212.50" r="1.05" fill="#ec8410"/><circle cx="108.00" cy="213.30" r="1.05" fill="#ec8410"/><circle cx="110.50" cy="213.30" r="1.05" fill="#ec8410"/><circle cx="112.50" cy="211.80" r="1.05" fill="#ec8410"/><circle cx="114.50" cy="211.00" r="1.05" fill="#ec8410"/><circle cx="104.00" cy="217.80" r="1.05" fill="#ec8410"/><circle cx="106.50" cy="218.80" r="1.05" fill="#ec8410"/><circle cx="109.25" cy="217.20" r="1.05" fill="#ec8410"/><circle cx="111.50" cy="219.50" r="1.05" fill="#ec8410"/><circle cx="114.50" cy="218.50" r="1.05" fill="#ec8410"/><circle cx="109.00" cy="220.50" r="1.05" fill="#ec8410"/><circle cx="177.60" cy="162.50" r="1.05" fill="#0f2463"/><circle cx="177.60" cy="164.70" r="1.05" fill="#0f2463"/><circle cx="177.60" cy="177.70" r="1.05" fill="#0f2463"/><circle cx="177.60" cy="201.50" r="1.05" fill="#0f2463"/><circle cx="177.60" cy="209.00" r="1.05" fill="#0f2463"/><circle cx="177.60" cy="213.80" r="1.05" fill="#0f2463"/><circle cx="173.50" cy="216.30" r="1.05" fill="#0f2463"/><circle cx="177.60" cy="217.40" r="1.05" fill="#0f2463"/><circle cx="182.00" cy="216.80" r="1.05" fill="#0f2463"/><line x1="170.5" y1="211.6" x2="185" y2="211.6" stroke="#3a3a3a" stroke-width="1.1" /><path d="M171.20,217.60 Q177.80,221.60 184.40,217.60" fill="none" stroke="#0f2463" stroke-width="1.8" stroke-linecap="round"/><circle cx="199.60" cy="174.80" r="0.9" fill="#222"/><circle cx="199.50" cy="186.50" r="1.05" fill="#4f9f22"/><circle cx="199.50" cy="192.00" r="1.05" fill="#4f9f22"/><circle cx="199.50" cy="202.40" r="1.05" fill="#4f9f22"/><circle cx="199.50" cy="207.70" r="1.05" fill="#4f9f22"/><circle cx="195.30" cy="210.50" r="1.05" fill="#4f9f22"/><circle cx="199.50" cy="212.40" r="1.05" fill="#4f9f22"/><circle cx="203.80" cy="210.90" r="1.05" fill="#4f9f22"/><circle cx="197.50" cy="217.40" r="1.05" fill="#4f9f22"/><circle cx="201.70" cy="217.40" r="1.05" fill="#4f9f22"/><line x1="194" y1="217.4" x2="205" y2="217.4" stroke="#555" stroke-width="1.0" /><path d="M193.2,216.3 Q193.6,220.8 199.5,220.6 Q205.4,220.8 205.8,216.3" fill="none" stroke="#4f9f22" stroke-width="1.8" stroke-linecap="round"/><circle cx="219.90" cy="174.70" r="0.9" fill="#222"/><circle cx="222.30" cy="174.70" r="0.9" fill="#222"/><circle cx="221.10" cy="207.50" r="1.05" fill="#b00a2e"/><circle cx="217.10" cy="210.50" r="1.05" fill="#b00a2e"/><circle cx="225.20" cy="211.30" r="1.05" fill="#b00a2e"/><circle cx="221.10" cy="212.50" r="1.05" fill="#b00a2e"/><circle cx="214.80" cy="215.40" r="1.05" fill="#b00a2e"/><circle cx="217.80" cy="217.00" r="1.05" fill="#b00a2e"/><circle cx="220.30" cy="217.50" r="1.05" fill="#b00a2e"/><circle cx="222.80" cy="217.00" r="1.05" fill="#b00a2e"/><circle cx="225.00" cy="215.40" r="1.05" fill="#b00a2e"/><circle cx="227.50" cy="214.60" r="1.05" fill="#b00a2e"/><path d="M214.80,218.60 Q221.20,222.20 227.60,218.60" fill="none" stroke="#b00a2e" stroke-width="2.0" stroke-linecap="round"/><circle cx="242.70" cy="174.70" r="0.9" fill="#222"/><circle cx="242.90" cy="214.60" r="1.05" fill="#ec8410"/><path d="M236.70,218.40 Q243.00,221.80 249.30,218.40" fill="none" stroke="#ec8410" stroke-width="2.0" stroke-linecap="round"/><line x1="237.5" y1="219.6" x2="248.5" y2="219.6" stroke="#444" stroke-width="1.0" /><line x1="321" y1="161.9" x2="335" y2="170.6" stroke="#4f2278" stroke-width="0.95" /><line x1="341.4" y1="174.5" x2="354.6" y2="185.5" stroke="#4f2278" stroke-width="0.95" /><circle cx="321.00" cy="161.90" r="1.1" fill="#4f2278"/><circle cx="354.60" cy="185.50" r="1.1" fill="#4f2278"/><line x1="321" y1="179.5" x2="354.6" y2="214" stroke="#4f2278" stroke-width="0.95" /><line x1="321" y1="185.5" x2="354.6" y2="212.8" stroke="#4f2278" stroke-width="0.95" /><line x1="321" y1="192.8" x2="354.6" y2="215" stroke="#4f2278" stroke-width="0.95" /><line x1="321" y1="193.7" x2="354.6" y2="217" stroke="#4f2278" stroke-width="0.95" /><line x1="321" y1="203.2" x2="354.6" y2="213.5" stroke="#4f2278" stroke-width="0.95" /><line x1="321" y1="207.4" x2="354.6" y2="216" stroke="#4f2278" stroke-width="0.95" /><line x1="321" y1="210.5" x2="354.6" y2="218" stroke="#4f2278" stroke-width="0.95" /><line x1="321" y1="212.3" x2="354.6" y2="219.5" stroke="#4f2278" stroke-width="0.95" /><line x1="321" y1="214" x2="354.6" y2="217" stroke="#4f2278" stroke-width="0.95" /><line x1="321" y1="215.5" x2="354.6" y2="220" stroke="#4f2278" stroke-width="0.95" /><line x1="321" y1="217" x2="354.6" y2="216" stroke="#4f2278" stroke-width="0.95" /><line x1="321" y1="218.5" x2="354.6" y2="219" stroke="#4f2278" stroke-width="0.95" /><line x1="321" y1="219.5" x2="354.6" y2="220" stroke="#4f2278" stroke-width="0.95" /><circle cx="321.00" cy="179.50" r="1.1" fill="#4f2278"/><circle cx="354.60" cy="214.00" r="1.1" fill="#4f2278"/><circle cx="321.00" cy="185.50" r="1.1" fill="#4f2278"/><circle cx="354.60" cy="212.80" r="1.1" fill="#4f2278"/><circle cx="321.00" cy="192.80" r="1.1" fill="#4f2278"/><circle cx="354.60" cy="215.00" r="1.1" fill="#4f2278"/><circle cx="321.00" cy="193.70" r="1.1" fill="#4f2278"/><circle cx="354.60" cy="217.00" r="1.1" fill="#4f2278"/><circle cx="321.00" cy="203.20" r="1.1" fill="#4f2278"/><circle cx="354.60" cy="213.50" r="1.1" fill="#4f2278"/><circle cx="321.00" cy="207.40" r="1.1" fill="#4f2278"/><circle cx="354.60" cy="216.00" r="1.1" fill="#4f2278"/><circle cx="321.00" cy="210.50" r="1.1" fill="#4f2278"/><circle cx="354.60" cy="218.00" r="1.1" fill="#4f2278"/><circle cx="321.00" cy="212.30" r="1.1" fill="#4f2278"/><circle cx="354.60" cy="219.50" r="1.1" fill="#4f2278"/><circle cx="321.00" cy="214.00" r="1.1" fill="#4f2278"/><circle cx="354.60" cy="217.00" r="1.1" fill="#4f2278"/><circle cx="321.00" cy="215.50" r="1.1" fill="#4f2278"/><circle cx="354.60" cy="220.00" r="1.1" fill="#4f2278"/><circle cx="321.00" cy="217.00" r="1.1" fill="#4f2278"/><circle cx="354.60" cy="216.00" r="1.1" fill="#4f2278"/><circle cx="321.00" cy="218.50" r="1.1" fill="#4f2278"/><circle cx="354.60" cy="219.00" r="1.1" fill="#4f2278"/><circle cx="321.00" cy="219.50" r="1.1" fill="#4f2278"/><circle cx="354.60" cy="220.00" r="1.1" fill="#4f2278"/><line x1="453.2" y1="161.4" x2="486.8" y2="173.2" stroke="#4f2278" stroke-width="0.95" /><circle cx="453.20" cy="161.40" r="1.1" fill="#4f2278"/><circle cx="486.80" cy="173.20" r="1.1" fill="#4f2278"/><line x1="453.2" y1="165.5" x2="469.5" y2="174.8" stroke="#4f2278" stroke-width="0.95" /><line x1="475.9" y1="178.5" x2="486.8" y2="186.8" stroke="#4f2278" stroke-width="0.95" /><circle cx="453.20" cy="165.50" r="1.1" fill="#4f2278"/><circle cx="486.80" cy="186.80" r="1.1" fill="#4f2278"/><line x1="453.2" y1="198.3" x2="486.8" y2="204.1" stroke="#4f2278" stroke-width="0.95" /><line x1="453.2" y1="199.5" x2="486.8" y2="215" stroke="#4f2278" stroke-width="0.95" /><line x1="453.2" y1="201.9" x2="486.8" y2="216.5" stroke="#4f2278" stroke-width="0.95" /><line x1="453.2" y1="205.9" x2="486.8" y2="218" stroke="#4f2278" stroke-width="0.95" /><line x1="453.2" y1="207.7" x2="486.8" y2="215.5" stroke="#4f2278" stroke-width="0.95" /><line x1="453.2" y1="209.5" x2="486.8" y2="219" stroke="#4f2278" stroke-width="0.95" /><line x1="453.2" y1="211" x2="486.8" y2="217" stroke="#4f2278" stroke-width="0.95" /><line x1="453.2" y1="212.5" x2="486.8" y2="220" stroke="#4f2278" stroke-width="0.95" /><line x1="453.2" y1="214" x2="486.8" y2="218.5" stroke="#4f2278" stroke-width="0.95" /><line x1="453.2" y1="215.5" x2="486.8" y2="216" stroke="#4f2278" stroke-width="0.95" /><line x1="453.2" y1="217" x2="486.8" y2="219.5" stroke="#4f2278" stroke-width="0.95" /><line x1="453.2" y1="218.5" x2="486.8" y2="220" stroke="#4f2278" stroke-width="0.95" /><line x1="453.2" y1="219.5" x2="486.8" y2="218" stroke="#4f2278" stroke-width="0.95" /><line x1="453.2" y1="213" x2="486.8" y2="219" stroke="#4f2278" stroke-width="0.95" /><line x1="453.2" y1="216" x2="486.8" y2="220" stroke="#4f2278" stroke-width="0.95" /><circle cx="453.20" cy="198.30" r="1.1" fill="#4f2278"/><circle cx="486.80" cy="204.10" r="1.1" fill="#4f2278"/><circle cx="453.20" cy="199.50" r="1.1" fill="#4f2278"/><circle cx="486.80" cy="215.00" r="1.1" fill="#4f2278"/><circle cx="453.20" cy="201.90" r="1.1" fill="#4f2278"/><circle cx="486.80" cy="216.50" r="1.1" fill="#4f2278"/><circle cx="453.20" cy="205.90" r="1.1" fill="#4f2278"/><circle cx="486.80" cy="218.00" r="1.1" fill="#4f2278"/><circle cx="453.20" cy="207.70" r="1.1" fill="#4f2278"/><circle cx="486.80" cy="215.50" r="1.1" fill="#4f2278"/><circle cx="453.20" cy="209.50" r="1.1" fill="#4f2278"/><circle cx="486.80" cy="219.00" r="1.1" fill="#4f2278"/><circle cx="453.20" cy="211.00" r="1.1" fill="#4f2278"/><circle cx="486.80" cy="217.00" r="1.1" fill="#4f2278"/><circle cx="453.20" cy="212.50" r="1.1" fill="#4f2278"/><circle cx="486.80" cy="220.00" r="1.1" fill="#4f2278"/><circle cx="453.20" cy="214.00" r="1.1" fill="#4f2278"/><circle cx="486.80" cy="218.50" r="1.1" fill="#4f2278"/><circle cx="453.20" cy="215.50" r="1.1" fill="#4f2278"/><circle cx="486.80" cy="216.00" r="1.1" fill="#4f2278"/><circle cx="453.20" cy="217.00" r="1.1" fill="#4f2278"/><circle cx="486.80" cy="219.50" r="1.1" fill="#4f2278"/><circle cx="453.20" cy="218.50" r="1.1" fill="#4f2278"/><circle cx="486.80" cy="220.00" r="1.1" fill="#4f2278"/><circle cx="453.20" cy="219.50" r="1.1" fill="#4f2278"/><circle cx="486.80" cy="218.00" r="1.1" fill="#4f2278"/><circle cx="453.20" cy="213.00" r="1.1" fill="#4f2278"/><circle cx="486.80" cy="219.00" r="1.1" fill="#4f2278"/><circle cx="453.20" cy="216.00" r="1.1" fill="#4f2278"/><circle cx="486.80" cy="220.00" r="1.1" fill="#4f2278"/><circle cx="55.50" cy="294.50" r="1.05" fill="#0f2463"/><circle cx="55.50" cy="319.00" r="1.05" fill="#0f2463"/><circle cx="55.70" cy="330.10" r="1.05" fill="#0f2463"/><circle cx="55.70" cy="333.20" r="1.05" fill="#0f2463"/><circle cx="55.70" cy="338.70" r="1.05" fill="#0f2463"/><circle cx="50.70" cy="342.50" r="1.05" fill="#0f2463"/><circle cx="54.00" cy="343.50" r="1.05" fill="#0f2463"/><circle cx="57.30" cy="342.80" r="1.05" fill="#0f2463"/><circle cx="60.50" cy="342.20" r="1.05" fill="#0f2463"/><line x1="50.1" y1="336.4" x2="61.7" y2="336.4" stroke="#3a3a3a" stroke-width="1.1" /><path d="M50.20,348.00 Q55.70,351.20 61.20,348.00" fill="none" stroke="#0f2463" stroke-width="1.9" stroke-linecap="round"/><circle cx="73.50" cy="324.10" r="0.9" fill="#222"/><circle cx="73.70" cy="336.70" r="1.05" fill="#4f9f22"/><circle cx="73.70" cy="340.50" r="1.05" fill="#4f9f22"/><circle cx="68.50" cy="342.30" r="1.05" fill="#4f9f22"/><circle cx="71.00" cy="343.00" r="1.05" fill="#4f9f22"/><circle cx="73.70" cy="344.00" r="1.05" fill="#4f9f22"/><circle cx="76.30" cy="343.00" r="1.05" fill="#4f9f22"/><circle cx="78.80" cy="342.30" r="1.05" fill="#4f9f22"/><circle cx="68.50" cy="345.30" r="1.05" fill="#4f9f22"/><circle cx="71.00" cy="346.00" r="1.05" fill="#4f9f22"/><circle cx="76.30" cy="346.00" r="1.05" fill="#4f9f22"/><circle cx="78.80" cy="345.30" r="1.05" fill="#4f9f22"/><circle cx="73.70" cy="347.30" r="1.05" fill="#4f9f22"/><line x1="69.5" y1="348" x2="78" y2="348" stroke="#555" stroke-width="1.0" /><path d="M68.50,347.50 Q73.70,352.10 78.90,347.50" fill="none" stroke="#4f9f22" stroke-width="1.9" stroke-linecap="round"/><circle cx="91.20" cy="324.10" r="0.9" fill="#222"/><circle cx="89.40" cy="343.60" r="1.05" fill="#b00a2e"/><circle cx="93.50" cy="343.60" r="1.05" fill="#b00a2e"/><circle cx="91.20" cy="347.00" r="1.05" fill="#b00a2e"/><path d="M86,345.8 Q86.2,350.6 91.3,350.2 Q96.4,350.6 96.6,345.8" fill="none" stroke="#b00a2e" stroke-width="2.0" stroke-linecap="round"/><line x1="86.5" y1="348.8" x2="96" y2="348.8" stroke="#555" stroke-width="1.0" /><circle cx="107.20" cy="342.80" r="1.05" fill="#ec8410"/><circle cx="111.20" cy="342.80" r="1.05" fill="#ec8410"/><circle cx="109.20" cy="346.00" r="1.05" fill="#ec8410"/><line x1="103" y1="348.5" x2="115" y2="348.5" stroke="#3a3a3a" stroke-width="1.1" /><path d="M103.70,348.50 Q109.20,351.70 114.70,348.50" fill="none" stroke="#ec8410" stroke-width="1.9" stroke-linecap="round"/><line x1="186.8" y1="296.4" x2="189.5" y2="299.0" stroke="#4f2278" stroke-width="0.95" /><line x1="191.8" y1="302.2" x2="220" y2="337.3" stroke="#4f2278" stroke-width="0.95" /><circle cx="186.80" cy="296.40" r="1.1" fill="#4f2278"/><circle cx="220.00" cy="337.30" r="1.1" fill="#4f2278"/><line x1="186.8" y1="308.9" x2="220" y2="348" stroke="#4f2278" stroke-width="0.95" /><line x1="186.8" y1="323.4" x2="220" y2="346.6" stroke="#4f2278" stroke-width="0.95" /><line x1="186.8" y1="327.5" x2="220" y2="349" stroke="#4f2278" stroke-width="0.95" /><line x1="186.8" y1="339.8" x2="220" y2="344" stroke="#4f2278" stroke-width="0.95" /><line x1="186.8" y1="340.7" x2="220" y2="349" stroke="#4f2278" stroke-width="0.95" /><line x1="186.8" y1="341.5" x2="220" y2="350" stroke="#4f2278" stroke-width="0.95" /><line x1="186.8" y1="348.3" x2="220" y2="350" stroke="#4f2278" stroke-width="0.95" /><line x1="186.8" y1="349" x2="220" y2="348" stroke="#4f2278" stroke-width="0.95" /><line x1="186.8" y1="350" x2="220" y2="349.5" stroke="#4f2278" stroke-width="0.95" /><line x1="186.8" y1="349.5" x2="220" y2="350" stroke="#4f2278" stroke-width="0.95" /><circle cx="186.80" cy="308.90" r="1.1" fill="#4f2278"/><circle cx="220.00" cy="348.00" r="1.1" fill="#4f2278"/><circle cx="186.80" cy="323.40" r="1.1" fill="#4f2278"/><circle cx="220.00" cy="346.60" r="1.1" fill="#4f2278"/><circle cx="186.80" cy="327.50" r="1.1" fill="#4f2278"/><circle cx="220.00" cy="349.00" r="1.1" fill="#4f2278"/><circle cx="186.80" cy="339.80" r="1.1" fill="#4f2278"/><circle cx="220.00" cy="344.00" r="1.1" fill="#4f2278"/><circle cx="186.80" cy="340.70" r="1.1" fill="#4f2278"/><circle cx="220.00" cy="349.00" r="1.1" fill="#4f2278"/><circle cx="186.80" cy="341.50" r="1.1" fill="#4f2278"/><circle cx="220.00" cy="350.00" r="1.1" fill="#4f2278"/><circle cx="186.80" cy="348.30" r="1.1" fill="#4f2278"/><circle cx="220.00" cy="350.00" r="1.1" fill="#4f2278"/><circle cx="186.80" cy="349.00" r="1.1" fill="#4f2278"/><circle cx="220.00" cy="348.00" r="1.1" fill="#4f2278"/><circle cx="186.80" cy="350.00" r="1.1" fill="#4f2278"/><circle cx="220.00" cy="349.50" r="1.1" fill="#4f2278"/><circle cx="186.80" cy="349.50" r="1.1" fill="#4f2278"/><circle cx="220.00" cy="350.00" r="1.1" fill="#4f2278"/><defs><clipPath id="c3clip"><rect x="290" y="280" width="101.2" height="80"/></clipPath></defs><g clip-path="url(#c3clip)"><circle cx="305.80" cy="310.10" r="1.15" fill="#4a1d6e"/><circle cx="303.40" cy="314.20" r="1.15" fill="#4a1d6e"/><circle cx="308.10" cy="313.50" r="1.15" fill="#4a1d6e"/><circle cx="305.80" cy="319.20" r="1.15" fill="#4a1d6e"/><circle cx="305.80" cy="335.20" r="1.15" fill="#4a1d6e"/><line x1="305.8" y1="326.8" x2="305.8" y2="339" stroke="#555" stroke-width="0.9" /><line x1="304.0" y1="326.8" x2="307.6" y2="326.8" stroke="#555" stroke-width="1.0" /><line x1="302.5" y1="339" x2="309" y2="339" stroke="#4a1d6e" stroke-width="1.3" /><circle cx="302.50" cy="339.00" r="1.1" fill="#4a1d6e"/><circle cx="309.00" cy="339.00" r="1.1" fill="#4a1d6e"/><path d="M302.5,340.8 Q302.5,343.33 305.8,345.40000000000003 Q309.1,343.33 309.1,340.8 Q305.8,341.95 302.5,340.8 Z" fill="none" stroke="#4a1d6e" stroke-width="1.5" stroke-linejoin="round"/><path d="M302.8,344.8 Q302.8,347.22 305.8,349.2 Q308.8,347.22 308.8,344.8 Q305.8,345.90000000000003 302.8,344.8 Z" fill="none" stroke="#4a1d6e" stroke-width="1.5" stroke-linejoin="round"/><line x1="312.5" y1="342.6" x2="318.5" y2="342.6" stroke="#4a1d6e" stroke-width="1.3" /><rect x="313.1" y="342.6" width="5" height="5.2" fill="none" stroke="#4a1d6e" stroke-width="1.5"/><circle cx="313.00" cy="342.60" r="1.1" fill="#4a1d6e"/><circle cx="318.30" cy="342.60" r="1.1" fill="#4a1d6e"/><circle cx="313.20" cy="347.80" r="1.0" fill="#4a1d6e"/><circle cx="318.10" cy="347.80" r="1.0" fill="#4a1d6e"/><circle cx="325.60" cy="317.60" r="1.15" fill="#4a1d6e"/><circle cx="325.60" cy="326.80" r="1.15" fill="#4a1d6e"/><line x1="325.6" y1="335.5" x2="325.6" y2="339.5" stroke="#555" stroke-width="0.9" /><line x1="323.8" y1="335.5" x2="327.40000000000003" y2="335.5" stroke="#555" stroke-width="1.0" /><line x1="322.8" y1="338.2" x2="328.4" y2="343" stroke="#4a1d6e" stroke-width="1.2" /><line x1="328.4" y1="338.2" x2="322.8" y2="343" stroke="#4a1d6e" stroke-width="1.2" /><path d="M322.40000000000003,343.2 Q322.40000000000003,345.51 325.6,347.4 Q328.8,345.51 328.8,343.2 Q325.6,344.25 322.40000000000003,343.2 Z" fill="none" stroke="#4a1d6e" stroke-width="1.5" stroke-linejoin="round"/><path d="M323.0,346.2 Q323.0,348.18 325.6,349.8 Q328.20000000000005,348.18 328.20000000000005,346.2 Q325.6,347.09999999999997 323.0,346.2 Z" fill="none" stroke="#4a1d6e" stroke-width="1.5" stroke-linejoin="round"/><circle cx="335.80" cy="337.60" r="1.15" fill="#4a1d6e"/><circle cx="333.50" cy="340.80" r="1.15" fill="#4a1d6e"/><circle cx="338.50" cy="340.10" r="1.15" fill="#4a1d6e"/><line x1="333" y1="343" x2="338.6" y2="343" stroke="#4a1d6e" stroke-width="1.2" /><path d="M332.6,343.3 Q332.6,345.61 335.8,347.5 Q339.0,345.61 339.0,343.3 Q335.8,344.35 332.6,343.3 Z" fill="none" stroke="#4a1d6e" stroke-width="1.5" stroke-linejoin="round"/><path d="M333.2,346.2 Q333.2,348.18 335.8,349.8 Q338.40000000000003,348.18 338.40000000000003,346.2 Q335.8,347.09999999999997 333.2,346.2 Z" fill="none" stroke="#4a1d6e" stroke-width="1.5" stroke-linejoin="round"/><circle cx="346.00" cy="299.70" r="1.15" fill="#4a1d6e"/><line x1="346.1" y1="332.7" x2="346.1" y2="343" stroke="#555" stroke-width="0.9" /><line x1="343.90000000000003" y1="332.7" x2="348.3" y2="332.7" stroke="#555" stroke-width="1.0" /><circle cx="343.50" cy="337.70" r="1.15" fill="#4a1d6e"/><circle cx="348.50" cy="336.60" r="1.15" fill="#4a1d6e"/><circle cx="348.50" cy="340.00" r="1.15" fill="#4a1d6e"/><circle cx="343.50" cy="341.50" r="1.15" fill="#4a1d6e"/><circle cx="348.50" cy="342.50" r="1.15" fill="#4a1d6e"/><path d="M342.90000000000003,343 Q342.90000000000003,345.31 346.1,347.2 Q349.3,345.31 349.3,343 Q346.1,344.05 342.90000000000003,343 Z" fill="none" stroke="#4a1d6e" stroke-width="1.5" stroke-linejoin="round"/><path d="M343.5,346 Q343.5,347.98 346.1,349.6 Q348.70000000000005,347.98 348.70000000000005,346 Q346.1,346.9 343.5,346 Z" fill="none" stroke="#4a1d6e" stroke-width="1.5" stroke-linejoin="round"/><line x1="352.3" y1="345.7" x2="359.3" y2="345.7" stroke="#7fa08f" stroke-width="1.0" /><circle cx="356.00" cy="345.80" r="1.3" fill="#2d5a48"/><rect x="364.8" y="320.2" width="2.6" height="2.6" fill="none" stroke="#8e84cc" stroke-width="0.9"/><rect x="361.9" y="335.0" width="2.6" height="2.6" fill="none" stroke="#8e84cc" stroke-width="0.9"/><rect x="367.4" y="335.0" width="2.6" height="2.6" fill="none" stroke="#8e84cc" stroke-width="0.9"/><line x1="364.5" y1="336.3" x2="367.4" y2="336.3" stroke="#333" stroke-width="1.0" /><line x1="366" y1="336.3" x2="366" y2="344" stroke="#333" stroke-width="1.0" /><path d="M361.6,342.2 L370.6,342.2 L370.3,346 L367.5,349.8 L364.7,349.8 L361.9,346 Z" fill="#9a90d8"/><ellipse cx="366" cy="345.8" rx="2.4" ry="2.0" fill="none" stroke="#7d73c0" stroke-width="1.0"/><polygon points="374.7,333.65000000000003 377.7,333.65000000000003 376.2,330.8" fill="#4a9ee0"/><circle cx="376.20" cy="338.10" r="1.2" fill="#4a9ee0"/><line x1="376.2" y1="338" x2="376.2" y2="345" stroke="#333" stroke-width="1.0" /><polygon points="372.2,341.13 374.8,341.13 373.5,343.6" fill="#4a9ee0"/><polygon points="377.7,341.13 380.3,341.13 379,343.6" fill="#4a9ee0"/><path d="M373.2,343.6 Q373.2,345.8 376.2,347.6 Q379.2,345.8 379.2,343.6 Q376.2,344.6 373.2,343.6 Z" fill="none" stroke="#4a9ee0" stroke-width="1.4" stroke-linejoin="round"/><path d="M373.8,346.4 Q373.8,348.27 376.2,349.79999999999995 Q378.59999999999997,348.27 378.59999999999997,346.4 Q376.2,347.25 373.8,346.4 Z" fill="none" stroke="#4a9ee0" stroke-width="1.4" stroke-linejoin="round"/><polygon points="382.6,336.24 385.4,336.24 384,338.9" fill="#cc0a6e"/><polygon points="387.40000000000003,334.24 390.2,334.24 388.8,336.9" fill="#cc0a6e"/><polygon points="384.90000000000003,338.04 387.7,338.04 386.3,340.7" fill="#cc0a6e"/><line x1="384.5" y1="340.2" x2="388.1" y2="340.2" stroke="#333" stroke-width="1.0" /><path d="M383.3,341.0 Q383.3,343.42 386.3,345.4 Q389.3,343.42 389.3,341.0 Q386.3,342.1 383.3,341.0 Z" fill="none" stroke="#cc0a6e" stroke-width="1.7" stroke-linejoin="round"/><path d="M383.5,344.6 Q383.5,347.13 386.3,349.20000000000005 Q389.1,347.13 389.1,344.6 Q386.3,345.75 383.5,344.6 Z" fill="none" stroke="#cc0a6e" stroke-width="1.7" stroke-linejoin="round"/></g><circle cx="443.90" cy="313.10" r="1.05" fill="#0f2463"/><circle cx="442.10" cy="316.80" r="1.05" fill="#0f2463"/><circle cx="446.40" cy="316.30" r="1.05" fill="#0f2463"/><circle cx="444.10" cy="321.80" r="1.05" fill="#0f2463"/><circle cx="444.40" cy="337.10" r="1.05" fill="#0f2463"/><circle cx="444.40" cy="342.30" r="1.05" fill="#0f2463"/><circle cx="438.20" cy="343.80" r="1.05" fill="#0f2463"/><circle cx="442.00" cy="343.50" r="1.05" fill="#0f2463"/><circle cx="449.80" cy="344.20" r="1.05" fill="#0f2463"/><circle cx="438.50" cy="341.20" r="1.05" fill="#0f2463"/><circle cx="449.70" cy="340.60" r="1.05" fill="#0f2463"/><line x1="444.4" y1="329.4" x2="444.4" y2="340.5" stroke="#222" stroke-width="0.9" /><line x1="441.4" y1="329.4" x2="447.4" y2="329.4" stroke="#222" stroke-width="1.0" /><line x1="438.4" y1="340.5" x2="450.4" y2="340.5" stroke="#222" stroke-width="1.1" /><path d="M438.60,345.40 Q444.40,348.20 450.20,345.40" fill="none" stroke="#0f2463" stroke-width="1.6" stroke-linecap="round"/><path d="M438.60,348.30 Q444.40,351.70 450.20,348.30" fill="none" stroke="#0f2463" stroke-width="1.6" stroke-linecap="round"/><circle cx="463.60" cy="302.30" r="1.05" fill="#4f9f22"/><circle cx="463.60" cy="323.70" r="1.05" fill="#4f9f22"/><circle cx="463.60" cy="333.50" r="1.05" fill="#4f9f22"/><circle cx="458.30" cy="338.50" r="1.05" fill="#4f9f22"/><circle cx="461.50" cy="340.00" r="1.05" fill="#4f9f22"/><circle cx="466.00" cy="339.80" r="1.05" fill="#4f9f22"/><circle cx="469.20" cy="337.80" r="1.05" fill="#4f9f22"/><circle cx="457.50" cy="341.50" r="1.05" fill="#4f9f22"/><circle cx="470.00" cy="341.20" r="1.05" fill="#4f9f22"/><circle cx="459.50" cy="343.20" r="1.05" fill="#4f9f22"/><circle cx="463.60" cy="342.50" r="1.05" fill="#4f9f22"/><circle cx="467.80" cy="343.20" r="1.05" fill="#4f9f22"/><circle cx="457.20" cy="344.80" r="1.05" fill="#4f9f22"/><circle cx="470.20" cy="344.60" r="1.05" fill="#4f9f22"/><circle cx="461.50" cy="345.50" r="1.05" fill="#4f9f22"/><circle cx="465.80" cy="345.50" r="1.05" fill="#4f9f22"/><line x1="463.6" y1="336.5" x2="463.6" y2="345" stroke="#222" stroke-width="0.9" /><line x1="460.6" y1="336.5" x2="466.6" y2="336.5" stroke="#222" stroke-width="1.0" /><line x1="458.1" y1="345" x2="469.1" y2="345" stroke="#222" stroke-width="1.1" /><path d="M457.40,346.00 Q463.60,349.20 469.80,346.00" fill="none" stroke="#4f9f22" stroke-width="1.8" stroke-linecap="round"/><path d="M457.40,348.40 Q463.60,352.00 469.80,348.40" fill="none" stroke="#4f9f22" stroke-width="1.8" stroke-linecap="round"/><circle cx="483.20" cy="319.60" r="1.0" fill="#333"/><polygon points="481.9,330.57 484.5,330.57 483.2,328.09999999999997" fill="#b00a2e"/><polygon points="477.5,339.97 480.1,339.97 478.8,337.5" fill="#b00a2e"/><polygon points="475.9,342.17 478.5,342.17 477.2,339.7" fill="#b00a2e"/><polygon points="481.9,341.17 484.5,341.17 483.2,338.7" fill="#b00a2e"/><polygon points="486.2,340.67 488.8,340.67 487.5,338.2" fill="#b00a2e"/><polygon points="488.2,342.67 490.8,342.67 489.5,340.2" fill="#b00a2e"/><line x1="479" y1="342.3" x2="487.4" y2="342.3" stroke="#333" stroke-width="1.2" /><path d="M477.00,344.50 Q483.20,348.10 489.40,344.50" fill="none" stroke="#b00a2e" stroke-width="2.0" stroke-linecap="round"/><path d="M477.00,347.40 Q483.20,351.80 489.40,347.40" fill="none" stroke="#b00a2e" stroke-width="2.0" stroke-linecap="round"/><circle cx="502.60" cy="319.60" r="1.0" fill="#ec8410"/><line x1="502.6" y1="336.8" x2="502.6" y2="344.6" stroke="#333" stroke-width="0.9" /><line x1="499.20000000000005" y1="336.8" x2="506.0" y2="336.8" stroke="#333" stroke-width="1.0" /><line x1="496.40000000000003" y1="344.6" x2="508.8" y2="344.6" stroke="#333" stroke-width="1.1" /><circle cx="500.50" cy="342.20" r="1.0" fill="#ec8410"/><circle cx="505.00" cy="341.50" r="1.0" fill="#ec8410"/><circle cx="497.00" cy="345.50" r="1.0" fill="#ec8410"/><circle cx="500.30" cy="345.80" r="1.0" fill="#ec8410"/><circle cx="504.50" cy="345.80" r="1.0" fill="#ec8410"/><circle cx="508.00" cy="345.00" r="1.0" fill="#ec8410"/><circle cx="497.00" cy="347.80" r="1.0" fill="#ec8410"/><circle cx="508.00" cy="347.30" r="1.0" fill="#ec8410"/><circle cx="500.50" cy="349.50" r="1.0" fill="#ec8410"/><circle cx="502.60" cy="349.90" r="1.0" fill="#ec8410"/><circle cx="505.00" cy="349.50" r="1.0" fill="#ec8410"/></g></svg><div class="border"></div></div></body></html>
